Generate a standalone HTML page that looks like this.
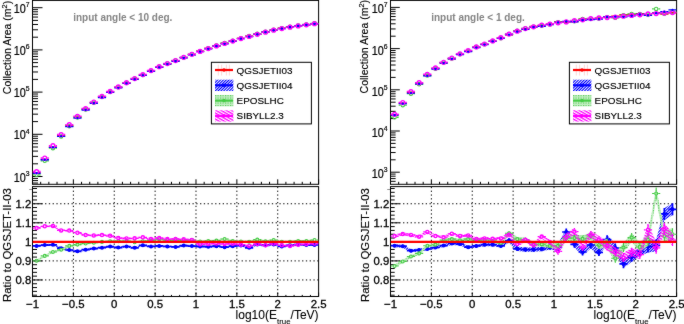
<!DOCTYPE html>
<html><head><meta charset="utf-8"><style>
html,body{margin:0;padding:0;background:#fff;}
body{width:684px;height:324px;overflow:hidden;font-family:"Liberation Sans",sans-serif;}
svg{display:block;}
</style></head><body>
<svg width="684" height="324" viewBox="0 0 684 324">
<defs>
<pattern id="hb" patternUnits="userSpaceOnUse" width="2" height="2" patternTransform="rotate(45)"><rect x="0" y="0" width="1.1" height="2" fill="#0000ff"/></pattern>
<pattern id="hm" patternUnits="userSpaceOnUse" width="2.6" height="2.6" patternTransform="rotate(30)"><rect x="0" y="0" width="2.6" height="1.3" fill="#ff00ff"/></pattern>
<pattern id="hg" patternUnits="userSpaceOnUse" width="2.5" height="2.5"><rect x="0" y="0" width="2.5" height="2.5" fill="#c6efc6"/><rect x="0" y="0" width="1.2" height="1.2" fill="#55cc55"/></pattern>
<clipPath id="cu0"><rect x="32.5" y="0.4" width="286.1" height="183.9"/></clipPath>
<clipPath id="cl0"><rect x="32.5" y="186.6" width="286.1" height="109.9"/></clipPath>
<filter id="soft" x="0" y="0" width="684" height="324" filterUnits="userSpaceOnUse" color-interpolation-filters="sRGB"><feConvolveMatrix order="3" kernelMatrix="1 2 1 2 40 2 1 2 1" divisor="52" edgeMode="duplicate" preserveAlpha="true"/></filter>
</defs>
<g filter="url(#soft)">
<rect x="0" y="0" width="684" height="324" fill="#ffffff"/>
<g transform="translate(0.0,0)">
<rect x="32.50" y="0.40" width="286.10" height="183.90" fill="none" stroke="#000" stroke-width="1"/>
<path d="M32.50 183.04h5.50M32.50 180.59h5.50M32.50 178.43h5.50M32.50 176.50h10.00M32.50 163.80h5.50M32.50 156.37h5.50M32.50 151.09h5.50M32.50 147.00h5.50M32.50 143.66h5.50M32.50 140.84h5.50M32.50 138.39h5.50M32.50 136.23h5.50M32.50 134.30h10.00M32.50 121.60h5.50M32.50 114.17h5.50M32.50 108.89h5.50M32.50 104.80h5.50M32.50 101.46h5.50M32.50 98.64h5.50M32.50 96.19h5.50M32.50 94.03h5.50M32.50 92.10h10.00M32.50 79.40h5.50M32.50 71.97h5.50M32.50 66.69h5.50M32.50 62.60h5.50M32.50 59.26h5.50M32.50 56.44h5.50M32.50 53.99h5.50M32.50 51.83h5.50M32.50 49.90h10.00M32.50 37.20h5.50M32.50 29.77h5.50M32.50 24.49h5.50M32.50 20.40h5.50M32.50 17.06h5.50M32.50 14.24h5.50M32.50 11.79h5.50M32.50 9.63h5.50M32.50 7.70h10.00M32.50 184.30v-5.00M40.67 184.30v-2.50M48.85 184.30v-2.50M57.02 184.30v-2.50M65.20 184.30v-2.50M73.37 184.30v-5.00M81.55 184.30v-2.50M89.72 184.30v-2.50M97.89 184.30v-2.50M106.07 184.30v-2.50M114.24 184.30v-5.00M122.42 184.30v-2.50M130.59 184.30v-2.50M138.77 184.30v-2.50M146.94 184.30v-2.50M155.11 184.30v-5.00M163.29 184.30v-2.50M171.46 184.30v-2.50M179.64 184.30v-2.50M187.81 184.30v-2.50M195.99 184.30v-5.00M204.16 184.30v-2.50M212.33 184.30v-2.50M220.51 184.30v-2.50M228.68 184.30v-2.50M236.86 184.30v-5.00M245.03 184.30v-2.50M253.21 184.30v-2.50M261.38 184.30v-2.50M269.55 184.30v-2.50M277.73 184.30v-5.00M285.90 184.30v-2.50M294.08 184.30v-2.50M302.25 184.30v-2.50M310.43 184.30v-2.50M318.60 184.30v-5.00" stroke="#000" stroke-width="1" fill="none"/>
<g transform="translate(29.6,181.60) scale(0.9,1)"><text x="0" y="0" font-family="Liberation Sans, sans-serif" font-size="12" text-anchor="end" fill="#000" stroke="#000" stroke-width="0.2">10<tspan dy="-5.9" font-size="7.6">3</tspan></text></g>
<g transform="translate(29.6,139.40) scale(0.9,1)"><text x="0" y="0" font-family="Liberation Sans, sans-serif" font-size="12" text-anchor="end" fill="#000" stroke="#000" stroke-width="0.2">10<tspan dy="-5.9" font-size="7.6">4</tspan></text></g>
<g transform="translate(29.6,97.20) scale(0.9,1)"><text x="0" y="0" font-family="Liberation Sans, sans-serif" font-size="12" text-anchor="end" fill="#000" stroke="#000" stroke-width="0.2">10<tspan dy="-5.9" font-size="7.6">5</tspan></text></g>
<g transform="translate(29.6,55.00) scale(0.9,1)"><text x="0" y="0" font-family="Liberation Sans, sans-serif" font-size="12" text-anchor="end" fill="#000" stroke="#000" stroke-width="0.2">10<tspan dy="-5.9" font-size="7.6">6</tspan></text></g>
<g transform="translate(29.6,12.80) scale(0.9,1)"><text x="0" y="0" font-family="Liberation Sans, sans-serif" font-size="12" text-anchor="end" fill="#000" stroke="#000" stroke-width="0.2">10<tspan dy="-5.9" font-size="7.6">7</tspan></text></g>
<text transform="translate(10.50,94.20) rotate(-90)" font-family="Liberation Sans, sans-serif" font-size="10.5" fill="#000" stroke="#000" stroke-width="0.15">Collection Area (m<tspan dy="-4" font-size="7.5">2</tspan><tspan dy="4">)</tspan></text>
<text x="73.2" y="20.6" font-family="Liberation Sans, sans-serif" font-size="10" font-weight="bold" fill="#858585">input angle &lt; 10 deg.</text>
<g clip-path="url(#cu0)">
<path d="M32.50 172.88H40.67M36.59 172.08V173.68M40.67 159.44H48.85M44.76 158.64V160.24M48.85 147.16H57.02M52.94 146.36V147.96M57.02 135.67H65.20M61.11 134.87V136.47M65.20 125.75H73.37M69.28 124.95V126.55M73.37 117.16H81.55M77.46 116.36V117.96M81.55 109.24H89.72M85.63 108.44V110.04M89.72 102.61H97.89M93.81 101.81V103.41M97.89 96.94H106.07M101.98 96.14V97.74M106.07 91.97H114.24M110.16 91.17V92.77M114.24 87.28H122.42M118.33 86.48V88.08M122.42 83.02H130.59M126.50 82.22V83.82M130.59 78.84H138.77M134.68 78.04V79.64M138.77 75.03H146.94M142.85 74.23V75.83M146.94 70.86H155.11M151.03 70.06V71.66M155.11 67.08H163.29M159.20 66.28V67.88M163.29 63.76H171.46M167.38 62.96V64.56M171.46 60.76H179.64M175.55 59.96V61.56M179.64 57.54H187.81M183.72 56.74V58.34M187.81 54.48H195.99M191.90 53.68V55.28M195.99 51.17H204.16M200.07 50.37V51.97M204.16 48.40H212.33M208.25 47.60V49.20M212.33 45.74H220.51M216.42 44.94V46.54M220.51 43.28H228.68M224.60 42.48V44.08M228.68 40.91H236.86M232.77 40.11V41.71M236.86 38.32H245.03M240.94 37.52V39.12M245.03 36.11H253.21M249.12 35.31V36.91M253.21 34.08H261.38M257.29 33.28V34.88M261.38 31.87H269.55M265.47 31.07V32.67M269.55 30.04H277.73M273.64 29.24V30.84M277.73 28.17H285.90M281.82 27.37V28.97M285.90 26.81H294.08M289.99 26.01V27.61M294.08 25.62H302.25M298.16 24.82V26.42M302.25 24.58H310.43M306.34 23.78V25.38M310.43 23.54H318.60M314.51 22.74V24.34" stroke="#ff0000" stroke-width="1.30" fill="none"/>
<path d="M32.50 174.80H34.34M38.84 174.80H40.67M40.67 160.84H42.51M47.01 160.84H48.85M48.85 148.16H50.69M55.19 148.16H57.02M57.02 136.44H58.86M63.36 136.44H65.20M65.20 126.15H67.03M71.53 126.15H73.37M73.37 117.43H75.21M79.71 117.43H81.55M81.55 109.40H83.38M87.88 109.40H89.72M89.72 102.70H91.56M96.06 102.70H97.89M97.89 96.94H99.73M104.23 96.94H106.07M106.07 91.91H107.91M112.41 91.91H114.24M114.24 87.21H116.08M120.58 87.21H122.42M122.42 82.95H124.25M128.75 82.95H130.59M130.59 78.87H132.43M136.93 78.87H138.77M138.77 74.97H140.60M145.10 74.97H146.94M146.94 70.75H148.78M153.28 70.75H155.11M155.11 66.82H156.95M161.45 66.82H163.29M163.29 63.60H165.13M169.63 63.60H171.46M171.46 60.60H173.30M177.80 60.60H179.64M179.64 57.39H181.47M185.97 57.39H187.81M187.81 54.30H189.65M194.15 54.30H195.99M195.99 51.14H197.82M202.32 51.14H204.16M204.16 48.32H206.00M210.50 48.32H212.33M212.33 45.62H214.17M218.67 45.62H220.51M220.51 43.01H222.35M226.85 43.01H228.68M228.68 40.83H230.52M235.02 40.83H236.86M236.86 38.29H238.69M243.19 38.29H245.03M245.03 36.09H246.87M251.37 36.09H253.21M253.21 33.87H255.04M259.54 33.87H261.38M261.38 31.80H263.22M267.72 31.80H269.55M269.55 29.86H271.39M275.89 29.86H277.73M277.73 28.15H279.57M284.07 28.15H285.90M285.90 26.79H287.74M292.24 26.79H294.08M294.08 25.54H295.91M300.41 25.54H302.25M302.25 24.50H304.09M308.59 24.50H310.43M310.43 23.36H312.26M316.76 23.36H318.60" stroke="#44cc44" stroke-width="1.30" fill="none"/>
<circle cx="36.59" cy="174.80" r="1.70" fill="none" stroke="#44cc44" stroke-width="1.10"/>
<circle cx="44.76" cy="160.84" r="1.70" fill="none" stroke="#44cc44" stroke-width="1.10"/>
<circle cx="52.94" cy="148.16" r="1.70" fill="none" stroke="#44cc44" stroke-width="1.10"/>
<circle cx="61.11" cy="136.44" r="1.70" fill="none" stroke="#44cc44" stroke-width="1.10"/>
<circle cx="69.28" cy="126.15" r="1.70" fill="none" stroke="#44cc44" stroke-width="1.10"/>
<circle cx="77.46" cy="117.43" r="1.70" fill="none" stroke="#44cc44" stroke-width="1.10"/>
<circle cx="85.63" cy="109.40" r="1.70" fill="none" stroke="#44cc44" stroke-width="1.10"/>
<circle cx="93.81" cy="102.70" r="1.70" fill="none" stroke="#44cc44" stroke-width="1.10"/>
<circle cx="101.98" cy="96.94" r="1.70" fill="none" stroke="#44cc44" stroke-width="1.10"/>
<circle cx="110.16" cy="91.91" r="1.70" fill="none" stroke="#44cc44" stroke-width="1.10"/>
<circle cx="118.33" cy="87.21" r="1.70" fill="none" stroke="#44cc44" stroke-width="1.10"/>
<circle cx="126.50" cy="82.95" r="1.70" fill="none" stroke="#44cc44" stroke-width="1.10"/>
<circle cx="134.68" cy="78.87" r="1.70" fill="none" stroke="#44cc44" stroke-width="1.10"/>
<circle cx="142.85" cy="74.97" r="1.70" fill="none" stroke="#44cc44" stroke-width="1.10"/>
<circle cx="151.03" cy="70.75" r="1.70" fill="none" stroke="#44cc44" stroke-width="1.10"/>
<circle cx="159.20" cy="66.82" r="1.70" fill="none" stroke="#44cc44" stroke-width="1.10"/>
<circle cx="167.38" cy="63.60" r="1.70" fill="none" stroke="#44cc44" stroke-width="1.10"/>
<circle cx="175.55" cy="60.60" r="1.70" fill="none" stroke="#44cc44" stroke-width="1.10"/>
<circle cx="183.72" cy="57.39" r="1.70" fill="none" stroke="#44cc44" stroke-width="1.10"/>
<circle cx="191.90" cy="54.30" r="1.70" fill="none" stroke="#44cc44" stroke-width="1.10"/>
<circle cx="200.07" cy="51.14" r="1.70" fill="none" stroke="#44cc44" stroke-width="1.10"/>
<circle cx="208.25" cy="48.32" r="1.70" fill="none" stroke="#44cc44" stroke-width="1.10"/>
<circle cx="216.42" cy="45.62" r="1.70" fill="none" stroke="#44cc44" stroke-width="1.10"/>
<circle cx="224.60" cy="43.01" r="1.70" fill="none" stroke="#44cc44" stroke-width="1.10"/>
<circle cx="232.77" cy="40.83" r="1.70" fill="none" stroke="#44cc44" stroke-width="1.10"/>
<circle cx="240.94" cy="38.29" r="1.70" fill="none" stroke="#44cc44" stroke-width="1.10"/>
<circle cx="249.12" cy="36.09" r="1.70" fill="none" stroke="#44cc44" stroke-width="1.10"/>
<circle cx="257.29" cy="33.87" r="1.70" fill="none" stroke="#44cc44" stroke-width="1.10"/>
<circle cx="265.47" cy="31.80" r="1.70" fill="none" stroke="#44cc44" stroke-width="1.10"/>
<circle cx="273.64" cy="29.86" r="1.70" fill="none" stroke="#44cc44" stroke-width="1.10"/>
<circle cx="281.82" cy="28.15" r="1.70" fill="none" stroke="#44cc44" stroke-width="1.10"/>
<circle cx="289.99" cy="26.79" r="1.70" fill="none" stroke="#44cc44" stroke-width="1.10"/>
<circle cx="298.16" cy="25.54" r="1.70" fill="none" stroke="#44cc44" stroke-width="1.10"/>
<circle cx="306.34" cy="24.50" r="1.70" fill="none" stroke="#44cc44" stroke-width="1.10"/>
<circle cx="314.51" cy="23.36" r="1.70" fill="none" stroke="#44cc44" stroke-width="1.10"/>
<path d="M32.50 173.27H40.67M36.59 172.47V174.07M40.67 159.75H48.85M44.76 158.95V160.55M48.85 147.44H57.02M52.94 146.64V148.24M57.02 136.29H65.20M61.11 135.49V137.09M65.20 126.55H73.37M69.28 125.75V127.35M73.37 118.09H81.55M77.46 117.29V118.89M81.55 110.01H89.72M85.63 109.21V110.81M89.72 103.27H97.89M93.81 102.47V104.07M97.89 97.51H106.07M101.98 96.71V98.31M106.07 92.44H114.24M110.16 91.64V93.24M114.24 87.84H122.42M118.33 87.04V88.64M122.42 83.47H130.59M126.50 82.67V84.27M130.59 79.42H138.77M134.68 78.62V80.22M138.77 75.37H146.94M142.85 74.57V76.17M146.94 71.32H155.11M151.03 70.52V72.12M155.11 67.47H163.29M159.20 66.67V68.27M163.29 64.22H171.46M167.38 63.42V65.02M171.46 61.26H179.64M175.55 60.46V62.06M179.64 57.91H187.81M183.72 57.11V58.71M187.81 54.89H195.99M191.90 54.09V55.69M195.99 51.62H204.16M200.07 50.82V52.42M204.16 48.87H212.33M208.25 48.07V49.67M212.33 46.16H220.51M216.42 45.36V46.96M220.51 43.80H228.68M224.60 43.00V44.60M228.68 41.33H236.86M232.77 40.53V42.13M236.86 38.68H245.03M240.94 37.88V39.48M245.03 36.69H253.21M249.12 35.89V37.49M253.21 34.35H261.38M257.29 33.55V35.15M261.38 32.20H269.55M265.47 31.40V33.00M269.55 30.30H277.73M273.64 29.50V31.10M277.73 28.62H285.90M281.82 27.82V29.42M285.90 27.14H294.08M289.99 26.34V27.94M294.08 25.88H302.25M298.16 25.08V26.68M302.25 24.89H310.43M306.34 24.09V25.69M310.43 23.85H318.60M314.51 23.05V24.65" stroke="#0000ff" stroke-width="1.30" fill="none"/>
<path d="M32.50 171.60H33.96M39.21 171.60H40.67M40.67 158.00H42.14M47.39 158.00H48.85M48.85 145.70H50.31M55.56 145.70H57.02M57.02 134.60H58.49M63.74 134.60H65.20M65.20 124.70H66.66M71.91 124.70H73.37M73.37 116.30H74.83M80.08 116.30H81.55M81.55 108.60H83.01M88.26 108.60H89.72M89.72 102.00H91.18M96.43 102.00H97.89M97.89 96.30H99.36M104.61 96.30H106.07M106.07 91.40H107.53M112.78 91.40H114.24M114.24 86.90H115.71M120.96 86.90H122.42M122.42 82.70H123.88M129.13 82.70H130.59M130.59 78.50H132.05M137.30 78.50H138.77M138.77 74.60H140.23M145.48 74.60H146.94M146.94 70.60H148.40M153.65 70.60H155.11M155.11 66.70H156.58M161.83 66.70H163.29M163.29 63.50H164.75M170.00 63.50H171.46M171.46 60.50H172.93M178.18 60.50H179.64M179.64 57.30H181.10M186.35 57.30H187.81M187.81 54.30H189.27M194.52 54.30H195.99M195.99 51.40H197.45M202.70 51.40H204.16M204.16 48.60H205.62M210.87 48.60H212.33M212.33 45.90H213.80M219.05 45.90H220.51M220.51 43.50H221.97M227.22 43.50H228.68M228.68 41.10H230.15M235.40 41.10H236.86M236.86 38.60H238.32M243.57 38.60H245.03M245.03 36.50H246.49M251.74 36.50H253.21M253.21 34.30H254.67M259.92 34.30H261.38M261.38 32.20H262.84M268.09 32.20H269.55M269.55 30.20H271.02M276.27 30.20H277.73M277.73 28.50H279.19M284.44 28.50H285.90M285.90 27.20H287.37M292.62 27.20H294.08M294.08 25.90H295.54M300.79 25.90H302.25M302.25 24.80H303.71M308.96 24.80H310.43M310.43 23.70H311.89M317.14 23.70H318.60" stroke="#ff00ff" stroke-width="1.50" fill="none"/>
<circle cx="36.59" cy="171.60" r="1.90" fill="none" stroke="#ff00ff" stroke-width="1.45"/>
<circle cx="44.76" cy="158.00" r="1.90" fill="none" stroke="#ff00ff" stroke-width="1.45"/>
<circle cx="52.94" cy="145.70" r="1.90" fill="none" stroke="#ff00ff" stroke-width="1.45"/>
<circle cx="61.11" cy="134.60" r="1.90" fill="none" stroke="#ff00ff" stroke-width="1.45"/>
<circle cx="69.28" cy="124.70" r="1.90" fill="none" stroke="#ff00ff" stroke-width="1.45"/>
<circle cx="77.46" cy="116.30" r="1.90" fill="none" stroke="#ff00ff" stroke-width="1.45"/>
<circle cx="85.63" cy="108.60" r="1.90" fill="none" stroke="#ff00ff" stroke-width="1.45"/>
<circle cx="93.81" cy="102.00" r="1.90" fill="none" stroke="#ff00ff" stroke-width="1.45"/>
<circle cx="101.98" cy="96.30" r="1.90" fill="none" stroke="#ff00ff" stroke-width="1.45"/>
<circle cx="110.16" cy="91.40" r="1.90" fill="none" stroke="#ff00ff" stroke-width="1.45"/>
<circle cx="118.33" cy="86.90" r="1.90" fill="none" stroke="#ff00ff" stroke-width="1.45"/>
<circle cx="126.50" cy="82.70" r="1.90" fill="none" stroke="#ff00ff" stroke-width="1.45"/>
<circle cx="134.68" cy="78.50" r="1.90" fill="none" stroke="#ff00ff" stroke-width="1.45"/>
<circle cx="142.85" cy="74.60" r="1.90" fill="none" stroke="#ff00ff" stroke-width="1.45"/>
<circle cx="151.03" cy="70.60" r="1.90" fill="none" stroke="#ff00ff" stroke-width="1.45"/>
<circle cx="159.20" cy="66.70" r="1.90" fill="none" stroke="#ff00ff" stroke-width="1.45"/>
<circle cx="167.38" cy="63.50" r="1.90" fill="none" stroke="#ff00ff" stroke-width="1.45"/>
<circle cx="175.55" cy="60.50" r="1.90" fill="none" stroke="#ff00ff" stroke-width="1.45"/>
<circle cx="183.72" cy="57.30" r="1.90" fill="none" stroke="#ff00ff" stroke-width="1.45"/>
<circle cx="191.90" cy="54.30" r="1.90" fill="none" stroke="#ff00ff" stroke-width="1.45"/>
<circle cx="200.07" cy="51.40" r="1.90" fill="none" stroke="#ff00ff" stroke-width="1.45"/>
<circle cx="208.25" cy="48.60" r="1.90" fill="none" stroke="#ff00ff" stroke-width="1.45"/>
<circle cx="216.42" cy="45.90" r="1.90" fill="none" stroke="#ff00ff" stroke-width="1.45"/>
<circle cx="224.60" cy="43.50" r="1.90" fill="none" stroke="#ff00ff" stroke-width="1.45"/>
<circle cx="232.77" cy="41.10" r="1.90" fill="none" stroke="#ff00ff" stroke-width="1.45"/>
<circle cx="240.94" cy="38.60" r="1.90" fill="none" stroke="#ff00ff" stroke-width="1.45"/>
<circle cx="249.12" cy="36.50" r="1.90" fill="none" stroke="#ff00ff" stroke-width="1.45"/>
<circle cx="257.29" cy="34.30" r="1.90" fill="none" stroke="#ff00ff" stroke-width="1.45"/>
<circle cx="265.47" cy="32.20" r="1.90" fill="none" stroke="#ff00ff" stroke-width="1.45"/>
<circle cx="273.64" cy="30.20" r="1.90" fill="none" stroke="#ff00ff" stroke-width="1.45"/>
<circle cx="281.82" cy="28.50" r="1.90" fill="none" stroke="#ff00ff" stroke-width="1.45"/>
<circle cx="289.99" cy="27.20" r="1.90" fill="none" stroke="#ff00ff" stroke-width="1.45"/>
<circle cx="298.16" cy="25.90" r="1.90" fill="none" stroke="#ff00ff" stroke-width="1.45"/>
<circle cx="306.34" cy="24.80" r="1.90" fill="none" stroke="#ff00ff" stroke-width="1.45"/>
<circle cx="314.51" cy="23.70" r="1.90" fill="none" stroke="#ff00ff" stroke-width="1.45"/>
<circle cx="36.59" cy="173.27" r="1.15" fill="#0000ff"/>
<circle cx="44.76" cy="159.75" r="1.15" fill="#0000ff"/>
<circle cx="52.94" cy="147.44" r="1.15" fill="#0000ff"/>
<circle cx="61.11" cy="136.29" r="1.15" fill="#0000ff"/>
<circle cx="69.28" cy="126.55" r="1.15" fill="#0000ff"/>
<circle cx="77.46" cy="118.09" r="1.15" fill="#0000ff"/>
<circle cx="85.63" cy="110.01" r="1.15" fill="#0000ff"/>
<circle cx="93.81" cy="103.27" r="1.15" fill="#0000ff"/>
<circle cx="101.98" cy="97.51" r="1.15" fill="#0000ff"/>
<circle cx="110.16" cy="92.44" r="1.15" fill="#0000ff"/>
<circle cx="118.33" cy="87.84" r="1.15" fill="#0000ff"/>
<circle cx="126.50" cy="83.47" r="1.15" fill="#0000ff"/>
<circle cx="134.68" cy="79.42" r="1.15" fill="#0000ff"/>
<circle cx="142.85" cy="75.37" r="1.15" fill="#0000ff"/>
<circle cx="151.03" cy="71.32" r="1.15" fill="#0000ff"/>
<circle cx="159.20" cy="67.47" r="1.15" fill="#0000ff"/>
<circle cx="167.38" cy="64.22" r="1.15" fill="#0000ff"/>
<circle cx="175.55" cy="61.26" r="1.15" fill="#0000ff"/>
<circle cx="183.72" cy="57.91" r="1.15" fill="#0000ff"/>
<circle cx="191.90" cy="54.89" r="1.15" fill="#0000ff"/>
<circle cx="200.07" cy="51.62" r="1.15" fill="#0000ff"/>
<circle cx="208.25" cy="48.87" r="1.15" fill="#0000ff"/>
<circle cx="216.42" cy="46.16" r="1.15" fill="#0000ff"/>
<circle cx="224.60" cy="43.80" r="1.15" fill="#0000ff"/>
<circle cx="232.77" cy="41.33" r="1.15" fill="#0000ff"/>
<circle cx="240.94" cy="38.68" r="1.15" fill="#0000ff"/>
<circle cx="249.12" cy="36.69" r="1.15" fill="#0000ff"/>
<circle cx="257.29" cy="34.35" r="1.15" fill="#0000ff"/>
<circle cx="265.47" cy="32.20" r="1.15" fill="#0000ff"/>
<circle cx="273.64" cy="30.30" r="1.15" fill="#0000ff"/>
<circle cx="281.82" cy="28.62" r="1.15" fill="#0000ff"/>
<circle cx="289.99" cy="27.14" r="1.15" fill="#0000ff"/>
<circle cx="298.16" cy="25.88" r="1.15" fill="#0000ff"/>
<circle cx="306.34" cy="24.89" r="1.15" fill="#0000ff"/>
<circle cx="314.51" cy="23.85" r="1.15" fill="#0000ff"/>
</g>
<rect x="211.40" y="62.30" width="100.00" height="61.60" fill="#fff" stroke="#000" stroke-width="1"/>
<path d="M218.3 64.70V75.50" stroke="#ffd0d0" stroke-width="0.9"/>
<path d="M221.6 64.70V75.50" stroke="#ffd0d0" stroke-width="0.9"/>
<path d="M226.4 64.70V75.50" stroke="#ffd0d0" stroke-width="0.9"/>
<path d="M229.4 64.70V75.50" stroke="#ffd0d0" stroke-width="0.9"/>
<path d="M215 70.00H233" stroke="#ff0000" stroke-width="2.2"/>
<circle cx="224" cy="70.00" r="1.8" fill="#ff0000"/>
<text x="236.6" y="73.50" font-family="Liberation Sans, sans-serif" font-size="9.9" fill="#000" stroke="#000" stroke-width="0.15">QGSJETII03</text>
<rect x="215" y="79.70" width="18.4" height="11.3" fill="url(#hb)"/>
<path d="M215 85.30H233" stroke="#0000ff" stroke-width="2.2"/>
<circle cx="224" cy="85.30" r="1.8" fill="#0000ff"/>
<text x="236.6" y="88.80" font-family="Liberation Sans, sans-serif" font-size="9.9" fill="#000" stroke="#000" stroke-width="0.15">QGSJETII04</text>
<rect x="215" y="95.00" width="18.4" height="11.3" fill="url(#hg)"/>
<path d="M215 100.60H233" stroke="#44cc44" stroke-width="2.2"/>
<circle cx="224" cy="100.60" r="1.8" fill="#44cc44"/>
<text x="236.6" y="104.10" font-family="Liberation Sans, sans-serif" font-size="9.9" fill="#000" stroke="#000" stroke-width="0.15">EPOSLHC</text>
<rect x="215" y="110.30" width="18.4" height="11.3" fill="url(#hm)"/>
<path d="M215 115.90H233" stroke="#ff00ff" stroke-width="2.2"/>
<circle cx="224" cy="115.90" r="1.8" fill="#ff00ff"/>
<text x="236.6" y="119.40" font-family="Liberation Sans, sans-serif" font-size="9.9" fill="#000" stroke="#000" stroke-width="0.15">SIBYLL2.3</text>
<path d="M73.37 186.60V296.50M114.24 186.60V296.50M155.11 186.60V296.50M195.99 186.60V296.50M236.86 186.60V296.50M277.73 186.60V296.50" stroke="#000" stroke-width="1" stroke-dasharray="1.3 2.48" stroke-dashoffset="3.53" fill="none"/>
<path d="M32.50 279.95H318.60M32.50 260.90H318.60M32.50 222.80H318.60M32.50 203.75H318.60" stroke="#000" stroke-width="1" stroke-dasharray="1.3 2.48" stroke-dashoffset="2.57" fill="none"/>
<rect x="32.50" y="186.60" width="286.10" height="109.90" fill="none" stroke="#000" stroke-width="1"/>
<path d="M32.50 296.50v-4.00M40.67 296.50v-1.60M48.85 296.50v-1.60M57.02 296.50v-1.60M65.20 296.50v-1.60M73.37 296.50v-4.00M81.55 296.50v-1.60M89.72 296.50v-1.60M97.89 296.50v-1.60M106.07 296.50v-1.60M114.24 296.50v-4.00M122.42 296.50v-1.60M130.59 296.50v-1.60M138.77 296.50v-1.60M146.94 296.50v-1.60M155.11 296.50v-4.00M163.29 296.50v-1.60M171.46 296.50v-1.60M179.64 296.50v-1.60M187.81 296.50v-1.60M195.99 296.50v-4.00M204.16 296.50v-1.60M212.33 296.50v-1.60M220.51 296.50v-1.60M228.68 296.50v-1.60M236.86 296.50v-4.00M245.03 296.50v-1.60M253.21 296.50v-1.60M261.38 296.50v-1.60M269.55 296.50v-1.60M277.73 296.50v-4.00M285.90 296.50v-1.60M294.08 296.50v-1.60M302.25 296.50v-1.60M310.43 296.50v-1.60M318.60 296.50v-4.00M32.50 295.19h4.50M32.50 291.38h4.50M32.50 287.57h4.50M32.50 283.76h4.50M32.50 279.95h10.00M32.50 276.14h4.50M32.50 272.33h4.50M32.50 268.52h4.50M32.50 264.71h4.50M32.50 260.90h10.00M32.50 257.09h4.50M32.50 253.28h4.50M32.50 249.47h4.50M32.50 245.66h4.50M32.50 241.85h10.00M32.50 238.04h4.50M32.50 234.23h4.50M32.50 230.42h4.50M32.50 226.61h4.50M32.50 222.80h10.00M32.50 218.99h4.50M32.50 215.18h4.50M32.50 211.37h4.50M32.50 207.56h4.50M32.50 203.75h10.00M32.50 199.94h4.50M32.50 196.13h4.50M32.50 192.32h4.50M32.50 188.51h4.50" stroke="#000" stroke-width="1" fill="none"/>
<path d="M29.2 189.5H32" stroke="#777" stroke-width="0.8"/>
<g clip-path="url(#cl0)">
<polygon points="36.59,244.90 44.76,244.10 52.94,243.80 61.11,247.20 69.28,249.00 77.46,250.30 85.63,248.70 93.81,247.60 101.98,246.70 110.16,245.60 118.33,246.60 126.50,245.50 134.68,246.80 142.85,244.30 151.03,245.50 159.20,244.90 167.38,245.50 175.55,245.90 183.72,244.60 191.90,245.10 200.07,245.40 208.25,245.70 216.42,245.20 224.60,246.20 232.77,245.20 240.94,244.50 249.12,246.80 257.29,243.60 265.47,244.30 273.64,243.50 281.82,245.50 289.99,244.30 298.16,243.50 306.34,244.00 314.51,244.00 314.51,246.00 306.34,246.00 298.16,245.50 289.99,246.30 281.82,247.50 273.64,245.50 265.47,246.30 257.29,245.60 249.12,248.80 240.94,246.50 232.77,247.20 224.60,248.20 216.42,247.20 208.25,247.70 200.07,247.40 191.90,247.10 183.72,246.60 175.55,247.90 167.38,247.50 159.20,246.90 151.03,247.50 142.85,246.30 134.68,248.80 126.50,247.50 118.33,248.60 110.16,247.60 101.98,248.70 93.81,249.60 85.63,250.70 77.46,252.30 69.28,251.00 61.11,249.20 52.94,245.80 44.76,246.10 36.59,246.90" fill="url(#hb)" stroke="none"/>
<path d="M32.50 245.90H40.67M36.59 244.90V246.90M40.67 245.10H48.85M44.76 244.10V246.10M48.85 244.80H57.02M52.94 243.80V245.80M57.02 248.20H65.20M61.11 247.20V249.20M65.20 250.00H73.37M69.28 249.00V251.00M73.37 251.30H81.55M77.46 250.30V252.30M81.55 249.70H89.72M85.63 248.70V250.70M89.72 248.60H97.89M93.81 247.60V249.60M97.89 247.70H106.07M101.98 246.70V248.70M106.07 246.60H114.24M110.16 245.60V247.60M114.24 247.60H122.42M118.33 246.60V248.60M122.42 246.50H130.59M126.50 245.50V247.50M130.59 247.80H138.77M134.68 246.80V248.80M138.77 245.30H146.94M142.85 244.30V246.30M146.94 246.50H155.11M151.03 245.50V247.50M155.11 245.90H163.29M159.20 244.90V246.90M163.29 246.50H171.46M167.38 245.50V247.50M171.46 246.90H179.64M175.55 245.90V247.90M179.64 245.60H187.81M183.72 244.60V246.60M187.81 246.10H195.99M191.90 245.10V247.10M195.99 246.40H204.16M200.07 245.40V247.40M204.16 246.70H212.33M208.25 245.70V247.70M212.33 246.20H220.51M216.42 245.20V247.20M220.51 247.20H228.68M224.60 246.20V248.20M228.68 246.20H236.86M232.77 245.20V247.20M236.86 245.50H245.03M240.94 244.50V246.50M245.03 247.80H253.21M249.12 246.80V248.80M253.21 244.60H261.38M257.29 243.60V245.60M261.38 245.30H269.55M265.47 244.30V246.30M269.55 244.50H277.73M273.64 243.50V245.50M277.73 246.50H285.90M281.82 245.50V247.50M285.90 245.30H294.08M289.99 244.30V246.30M294.08 244.50H302.25M298.16 243.50V245.50M302.25 245.00H310.43M306.34 244.00V246.00M310.43 245.00H318.60M314.51 244.00V246.00" stroke="#0000ff" stroke-width="1.70" fill="none"/>
<circle cx="36.59" cy="245.90" r="2.00" fill="#0000ff"/>
<circle cx="44.76" cy="245.10" r="2.00" fill="#0000ff"/>
<circle cx="52.94" cy="244.80" r="2.00" fill="#0000ff"/>
<circle cx="61.11" cy="248.20" r="2.00" fill="#0000ff"/>
<circle cx="69.28" cy="250.00" r="2.00" fill="#0000ff"/>
<circle cx="77.46" cy="251.30" r="2.00" fill="#0000ff"/>
<circle cx="85.63" cy="249.70" r="2.00" fill="#0000ff"/>
<circle cx="93.81" cy="248.60" r="2.00" fill="#0000ff"/>
<circle cx="101.98" cy="247.70" r="2.00" fill="#0000ff"/>
<circle cx="110.16" cy="246.60" r="2.00" fill="#0000ff"/>
<circle cx="118.33" cy="247.60" r="2.00" fill="#0000ff"/>
<circle cx="126.50" cy="246.50" r="2.00" fill="#0000ff"/>
<circle cx="134.68" cy="247.80" r="2.00" fill="#0000ff"/>
<circle cx="142.85" cy="245.30" r="2.00" fill="#0000ff"/>
<circle cx="151.03" cy="246.50" r="2.00" fill="#0000ff"/>
<circle cx="159.20" cy="245.90" r="2.00" fill="#0000ff"/>
<circle cx="167.38" cy="246.50" r="2.00" fill="#0000ff"/>
<circle cx="175.55" cy="246.90" r="2.00" fill="#0000ff"/>
<circle cx="183.72" cy="245.60" r="2.00" fill="#0000ff"/>
<circle cx="191.90" cy="246.10" r="2.00" fill="#0000ff"/>
<circle cx="200.07" cy="246.40" r="2.00" fill="#0000ff"/>
<circle cx="208.25" cy="246.70" r="2.00" fill="#0000ff"/>
<circle cx="216.42" cy="246.20" r="2.00" fill="#0000ff"/>
<circle cx="224.60" cy="247.20" r="2.00" fill="#0000ff"/>
<circle cx="232.77" cy="246.20" r="2.00" fill="#0000ff"/>
<circle cx="240.94" cy="245.50" r="2.00" fill="#0000ff"/>
<circle cx="249.12" cy="247.80" r="2.00" fill="#0000ff"/>
<circle cx="257.29" cy="244.60" r="2.00" fill="#0000ff"/>
<circle cx="265.47" cy="245.30" r="2.00" fill="#0000ff"/>
<circle cx="273.64" cy="244.50" r="2.00" fill="#0000ff"/>
<circle cx="281.82" cy="246.50" r="2.00" fill="#0000ff"/>
<circle cx="289.99" cy="245.30" r="2.00" fill="#0000ff"/>
<circle cx="298.16" cy="244.50" r="2.00" fill="#0000ff"/>
<circle cx="306.34" cy="245.00" r="2.00" fill="#0000ff"/>
<circle cx="314.51" cy="245.00" r="2.00" fill="#0000ff"/>
<polygon points="36.59,259.80 44.76,254.90 52.94,251.00 61.11,248.70 69.28,244.90 77.46,243.60 85.63,242.50 93.81,241.80 101.98,240.90 110.16,240.20 118.33,240.20 126.50,240.10 134.68,241.20 142.85,240.20 151.03,239.70 159.20,238.20 167.38,239.20 175.55,239.20 183.72,239.20 191.90,239.00 200.07,240.50 208.25,240.00 216.42,239.60 224.60,238.00 232.77,240.00 240.94,240.50 249.12,240.70 257.29,238.60 265.47,240.20 273.64,239.00 281.82,240.70 289.99,240.70 298.16,240.00 306.34,240.00 314.51,239.00 314.51,241.00 306.34,242.00 298.16,242.00 289.99,242.70 281.82,242.70 273.64,241.00 265.47,242.20 257.29,240.60 249.12,242.70 240.94,242.50 232.77,242.00 224.60,240.00 216.42,241.60 208.25,242.00 200.07,242.50 191.90,241.00 183.72,241.20 175.55,241.20 167.38,241.20 159.20,240.20 151.03,241.70 142.85,242.20 134.68,243.20 126.50,242.10 118.33,242.20 110.16,242.20 101.98,242.90 93.81,243.80 85.63,244.50 77.46,245.60 69.28,246.90 61.11,250.70 52.94,253.00 44.76,256.90 36.59,261.80" fill="url(#hg)" stroke="none"/>
<path d="M32.50 260.80H34.54M38.64 260.80H40.67M40.67 255.90H42.71M46.81 255.90H48.85M48.85 252.00H50.89M54.99 252.00H57.02M57.02 249.70H59.06M63.16 249.70H65.20M65.20 245.90H67.23M71.33 245.90H73.37M73.37 244.60H75.41M79.51 244.60H81.55M81.55 243.50H83.58M87.68 243.50H89.72M89.72 242.80H91.76M95.86 242.80H97.89M97.89 241.90H99.93M104.03 241.90H106.07M106.07 241.20H108.11M112.21 241.20H114.24M114.24 241.20H116.28M120.38 241.20H122.42M122.42 241.10H124.45M128.55 241.10H130.59M130.59 242.20H132.63M136.73 242.20H138.77M138.77 241.20H140.80M144.90 241.20H146.94M146.94 240.70H148.98M153.08 240.70H155.11M155.11 239.20H157.15M161.25 239.20H163.29M163.29 240.20H165.33M169.43 240.20H171.46M171.46 240.20H173.50M177.60 240.20H179.64M179.64 240.20H181.67M185.77 240.20H187.81M187.81 240.00H189.85M193.95 240.00H195.99M195.99 241.50H198.02M202.12 241.50H204.16M204.16 241.00H206.20M210.30 241.00H212.33M212.33 240.60H214.37M218.47 240.60H220.51M220.51 239.00H222.55M226.65 239.00H228.68M228.68 241.00H230.72M234.82 241.00H236.86M236.86 241.50H238.89M242.99 241.50H245.03M245.03 241.70H247.07M251.17 241.70H253.21M253.21 239.60H255.24M259.34 239.60H261.38M261.38 241.20H263.42M267.52 241.20H269.55M269.55 240.00H271.59M275.69 240.00H277.73M277.73 241.70H279.77M283.87 241.70H285.90M285.90 241.70H287.94M292.04 241.70H294.08M294.08 241.00H296.11M300.21 241.00H302.25M302.25 241.00H304.29M308.39 241.00H310.43M310.43 240.00H312.46M316.56 240.00H318.60" stroke="#44cc44" stroke-width="1.10" fill="none"/>
<circle cx="36.59" cy="260.80" r="1.50" fill="none" stroke="#44cc44" stroke-width="1.10"/>
<circle cx="44.76" cy="255.90" r="1.50" fill="none" stroke="#44cc44" stroke-width="1.10"/>
<circle cx="52.94" cy="252.00" r="1.50" fill="none" stroke="#44cc44" stroke-width="1.10"/>
<circle cx="61.11" cy="249.70" r="1.50" fill="none" stroke="#44cc44" stroke-width="1.10"/>
<circle cx="69.28" cy="245.90" r="1.50" fill="none" stroke="#44cc44" stroke-width="1.10"/>
<circle cx="77.46" cy="244.60" r="1.50" fill="none" stroke="#44cc44" stroke-width="1.10"/>
<circle cx="85.63" cy="243.50" r="1.50" fill="none" stroke="#44cc44" stroke-width="1.10"/>
<circle cx="93.81" cy="242.80" r="1.50" fill="none" stroke="#44cc44" stroke-width="1.10"/>
<circle cx="101.98" cy="241.90" r="1.50" fill="none" stroke="#44cc44" stroke-width="1.10"/>
<circle cx="110.16" cy="241.20" r="1.50" fill="none" stroke="#44cc44" stroke-width="1.10"/>
<circle cx="118.33" cy="241.20" r="1.50" fill="none" stroke="#44cc44" stroke-width="1.10"/>
<circle cx="126.50" cy="241.10" r="1.50" fill="none" stroke="#44cc44" stroke-width="1.10"/>
<circle cx="134.68" cy="242.20" r="1.50" fill="none" stroke="#44cc44" stroke-width="1.10"/>
<circle cx="142.85" cy="241.20" r="1.50" fill="none" stroke="#44cc44" stroke-width="1.10"/>
<circle cx="151.03" cy="240.70" r="1.50" fill="none" stroke="#44cc44" stroke-width="1.10"/>
<circle cx="159.20" cy="239.20" r="1.50" fill="none" stroke="#44cc44" stroke-width="1.10"/>
<circle cx="167.38" cy="240.20" r="1.50" fill="none" stroke="#44cc44" stroke-width="1.10"/>
<circle cx="175.55" cy="240.20" r="1.50" fill="none" stroke="#44cc44" stroke-width="1.10"/>
<circle cx="183.72" cy="240.20" r="1.50" fill="none" stroke="#44cc44" stroke-width="1.10"/>
<circle cx="191.90" cy="240.00" r="1.50" fill="none" stroke="#44cc44" stroke-width="1.10"/>
<circle cx="200.07" cy="241.50" r="1.50" fill="none" stroke="#44cc44" stroke-width="1.10"/>
<circle cx="208.25" cy="241.00" r="1.50" fill="none" stroke="#44cc44" stroke-width="1.10"/>
<circle cx="216.42" cy="240.60" r="1.50" fill="none" stroke="#44cc44" stroke-width="1.10"/>
<circle cx="224.60" cy="239.00" r="1.50" fill="none" stroke="#44cc44" stroke-width="1.10"/>
<circle cx="232.77" cy="241.00" r="1.50" fill="none" stroke="#44cc44" stroke-width="1.10"/>
<circle cx="240.94" cy="241.50" r="1.50" fill="none" stroke="#44cc44" stroke-width="1.10"/>
<circle cx="249.12" cy="241.70" r="1.50" fill="none" stroke="#44cc44" stroke-width="1.10"/>
<circle cx="257.29" cy="239.60" r="1.50" fill="none" stroke="#44cc44" stroke-width="1.10"/>
<circle cx="265.47" cy="241.20" r="1.50" fill="none" stroke="#44cc44" stroke-width="1.10"/>
<circle cx="273.64" cy="240.00" r="1.50" fill="none" stroke="#44cc44" stroke-width="1.10"/>
<circle cx="281.82" cy="241.70" r="1.50" fill="none" stroke="#44cc44" stroke-width="1.10"/>
<circle cx="289.99" cy="241.70" r="1.50" fill="none" stroke="#44cc44" stroke-width="1.10"/>
<circle cx="298.16" cy="241.00" r="1.50" fill="none" stroke="#44cc44" stroke-width="1.10"/>
<circle cx="306.34" cy="241.00" r="1.50" fill="none" stroke="#44cc44" stroke-width="1.10"/>
<circle cx="314.51" cy="240.00" r="1.50" fill="none" stroke="#44cc44" stroke-width="1.10"/>
<polygon points="36.59,227.10 44.76,225.30 52.94,225.10 61.11,229.40 69.28,229.60 77.46,231.70 85.63,234.10 93.81,234.40 101.98,234.10 110.16,234.80 118.33,236.90 126.50,237.50 134.68,237.30 142.85,236.30 151.03,238.10 159.20,236.90 167.38,238.10 175.55,238.10 183.72,238.30 191.90,239.00 200.07,243.20 208.25,242.90 216.42,242.50 224.60,243.10 232.77,242.80 240.94,243.70 249.12,244.90 257.29,243.10 265.47,244.30 273.64,242.50 281.82,244.30 289.99,244.90 298.16,243.70 306.34,243.10 314.51,242.50 314.51,244.50 306.34,245.10 298.16,245.70 289.99,246.90 281.82,246.30 273.64,244.50 265.47,246.30 257.29,245.10 249.12,246.90 240.94,245.70 232.77,244.80 224.60,245.10 216.42,244.50 208.25,244.90 200.07,245.20 191.90,241.00 183.72,240.30 175.55,240.10 167.38,240.10 159.20,238.90 151.03,240.10 142.85,238.30 134.68,239.30 126.50,239.50 118.33,238.90 110.16,236.80 101.98,236.10 93.81,236.40 85.63,236.10 77.46,233.70 69.28,231.60 61.11,231.40 52.94,227.10 44.76,227.30 36.59,229.10" fill="url(#hm)" stroke="none"/>
<path d="M32.50 228.10H34.34M38.84 228.10H40.67M40.67 226.30H42.51M47.01 226.30H48.85M48.85 226.10H50.69M55.19 226.10H57.02M57.02 230.40H58.86M63.36 230.40H65.20M65.20 230.60H67.03M71.53 230.60H73.37M73.37 232.70H75.21M79.71 232.70H81.55M81.55 235.10H83.38M87.88 235.10H89.72M89.72 235.40H91.56M96.06 235.40H97.89M97.89 235.10H99.73M104.23 235.10H106.07M106.07 235.80H107.91M112.41 235.80H114.24M114.24 237.90H116.08M120.58 237.90H122.42M122.42 238.50H124.25M128.75 238.50H130.59M130.59 238.30H132.43M136.93 238.30H138.77M138.77 237.30H140.60M145.10 237.30H146.94M146.94 239.10H148.78M153.28 239.10H155.11M155.11 237.90H156.95M161.45 237.90H163.29M163.29 239.10H165.13M169.63 239.10H171.46M171.46 239.10H173.30M177.80 239.10H179.64M179.64 239.30H181.47M185.97 239.30H187.81M187.81 240.00H189.65M194.15 240.00H195.99M195.99 244.20H197.82M202.32 244.20H204.16M204.16 243.90H206.00M210.50 243.90H212.33M212.33 243.50H214.17M218.67 243.50H220.51M220.51 244.10H222.35M226.85 244.10H228.68M228.68 243.80H230.52M235.02 243.80H236.86M236.86 244.70H238.69M243.19 244.70H245.03M245.03 245.90H246.87M251.37 245.90H253.21M253.21 244.10H255.04M259.54 244.10H261.38M261.38 245.30H263.22M267.72 245.30H269.55M269.55 243.50H271.39M275.89 243.50H277.73M277.73 245.30H279.57M284.07 245.30H285.90M285.90 245.90H287.74M292.24 245.90H294.08M294.08 244.70H295.91M300.41 244.70H302.25M302.25 244.10H304.09M308.59 244.10H310.43M310.43 243.50H312.26M316.76 243.50H318.60" stroke="#ff00ff" stroke-width="1.25" fill="none"/>
<circle cx="36.59" cy="228.10" r="1.60" fill="none" stroke="#ff00ff" stroke-width="1.30"/>
<circle cx="44.76" cy="226.30" r="1.60" fill="none" stroke="#ff00ff" stroke-width="1.30"/>
<circle cx="52.94" cy="226.10" r="1.60" fill="none" stroke="#ff00ff" stroke-width="1.30"/>
<circle cx="61.11" cy="230.40" r="1.60" fill="none" stroke="#ff00ff" stroke-width="1.30"/>
<circle cx="69.28" cy="230.60" r="1.60" fill="none" stroke="#ff00ff" stroke-width="1.30"/>
<circle cx="77.46" cy="232.70" r="1.60" fill="none" stroke="#ff00ff" stroke-width="1.30"/>
<circle cx="85.63" cy="235.10" r="1.60" fill="none" stroke="#ff00ff" stroke-width="1.30"/>
<circle cx="93.81" cy="235.40" r="1.60" fill="none" stroke="#ff00ff" stroke-width="1.30"/>
<circle cx="101.98" cy="235.10" r="1.60" fill="none" stroke="#ff00ff" stroke-width="1.30"/>
<circle cx="110.16" cy="235.80" r="1.60" fill="none" stroke="#ff00ff" stroke-width="1.30"/>
<circle cx="118.33" cy="237.90" r="1.60" fill="none" stroke="#ff00ff" stroke-width="1.30"/>
<circle cx="126.50" cy="238.50" r="1.60" fill="none" stroke="#ff00ff" stroke-width="1.30"/>
<circle cx="134.68" cy="238.30" r="1.60" fill="none" stroke="#ff00ff" stroke-width="1.30"/>
<circle cx="142.85" cy="237.30" r="1.60" fill="none" stroke="#ff00ff" stroke-width="1.30"/>
<circle cx="151.03" cy="239.10" r="1.60" fill="none" stroke="#ff00ff" stroke-width="1.30"/>
<circle cx="159.20" cy="237.90" r="1.60" fill="none" stroke="#ff00ff" stroke-width="1.30"/>
<circle cx="167.38" cy="239.10" r="1.60" fill="none" stroke="#ff00ff" stroke-width="1.30"/>
<circle cx="175.55" cy="239.10" r="1.60" fill="none" stroke="#ff00ff" stroke-width="1.30"/>
<circle cx="183.72" cy="239.30" r="1.60" fill="none" stroke="#ff00ff" stroke-width="1.30"/>
<circle cx="191.90" cy="240.00" r="1.60" fill="none" stroke="#ff00ff" stroke-width="1.30"/>
<circle cx="200.07" cy="244.20" r="1.60" fill="none" stroke="#ff00ff" stroke-width="1.30"/>
<circle cx="208.25" cy="243.90" r="1.60" fill="none" stroke="#ff00ff" stroke-width="1.30"/>
<circle cx="216.42" cy="243.50" r="1.60" fill="none" stroke="#ff00ff" stroke-width="1.30"/>
<circle cx="224.60" cy="244.10" r="1.60" fill="none" stroke="#ff00ff" stroke-width="1.30"/>
<circle cx="232.77" cy="243.80" r="1.60" fill="none" stroke="#ff00ff" stroke-width="1.30"/>
<circle cx="240.94" cy="244.70" r="1.60" fill="none" stroke="#ff00ff" stroke-width="1.30"/>
<circle cx="249.12" cy="245.90" r="1.60" fill="none" stroke="#ff00ff" stroke-width="1.30"/>
<circle cx="257.29" cy="244.10" r="1.60" fill="none" stroke="#ff00ff" stroke-width="1.30"/>
<circle cx="265.47" cy="245.30" r="1.60" fill="none" stroke="#ff00ff" stroke-width="1.30"/>
<circle cx="273.64" cy="243.50" r="1.60" fill="none" stroke="#ff00ff" stroke-width="1.30"/>
<circle cx="281.82" cy="245.30" r="1.60" fill="none" stroke="#ff00ff" stroke-width="1.30"/>
<circle cx="289.99" cy="245.90" r="1.60" fill="none" stroke="#ff00ff" stroke-width="1.30"/>
<circle cx="298.16" cy="244.70" r="1.60" fill="none" stroke="#ff00ff" stroke-width="1.30"/>
<circle cx="306.34" cy="244.10" r="1.60" fill="none" stroke="#ff00ff" stroke-width="1.30"/>
<circle cx="314.51" cy="243.50" r="1.60" fill="none" stroke="#ff00ff" stroke-width="1.30"/>
<path d="M32.50 241.85H318.60" stroke="#ff0000" stroke-width="2.2"/>
</g>
<text x="31.2" y="284.35" font-family="Liberation Sans, sans-serif" font-size="11.3" text-anchor="end" fill="#000" stroke="#000" stroke-width="0.3">0.8</text>
<text x="31.2" y="265.30" font-family="Liberation Sans, sans-serif" font-size="11.3" text-anchor="end" fill="#000" stroke="#000" stroke-width="0.3">0.9</text>
<text x="31.2" y="246.25" font-family="Liberation Sans, sans-serif" font-size="11.3" text-anchor="end" fill="#000" stroke="#000" stroke-width="0.3">1</text>
<text x="31.2" y="227.20" font-family="Liberation Sans, sans-serif" font-size="11.3" text-anchor="end" fill="#000" stroke="#000" stroke-width="0.3">1.1</text>
<text x="31.2" y="208.15" font-family="Liberation Sans, sans-serif" font-size="11.3" text-anchor="end" fill="#000" stroke="#000" stroke-width="0.3">1.2</text>
<text x="32.50" y="307.7" font-family="Liberation Sans, sans-serif" font-size="11.4" text-anchor="middle" fill="#000" stroke="#000" stroke-width="0.3">−1</text>
<text x="73.37" y="307.7" font-family="Liberation Sans, sans-serif" font-size="11.4" text-anchor="middle" fill="#000" stroke="#000" stroke-width="0.3">−0.5</text>
<text x="114.24" y="307.7" font-family="Liberation Sans, sans-serif" font-size="11.4" text-anchor="middle" fill="#000" stroke="#000" stroke-width="0.3">0</text>
<text x="155.11" y="307.7" font-family="Liberation Sans, sans-serif" font-size="11.4" text-anchor="middle" fill="#000" stroke="#000" stroke-width="0.3">0.5</text>
<text x="195.99" y="307.7" font-family="Liberation Sans, sans-serif" font-size="11.4" text-anchor="middle" fill="#000" stroke="#000" stroke-width="0.3">1</text>
<text x="236.86" y="307.7" font-family="Liberation Sans, sans-serif" font-size="11.4" text-anchor="middle" fill="#000" stroke="#000" stroke-width="0.3">1.5</text>
<text x="277.73" y="307.7" font-family="Liberation Sans, sans-serif" font-size="11.4" text-anchor="middle" fill="#000" stroke="#000" stroke-width="0.3">2</text>
<text x="318.60" y="307.7" font-family="Liberation Sans, sans-serif" font-size="11.4" text-anchor="middle" fill="#000" stroke="#000" stroke-width="0.3">2.5</text>
<text transform="translate(11.1,302) rotate(-90)" font-family="Liberation Sans, sans-serif" font-size="11.4" fill="#000" stroke="#000" stroke-width="0.15">Ratio to QGSJET-II-03</text>
<text x="318.6" y="319.1" font-family="Liberation Sans, sans-serif" font-size="12" text-anchor="end" fill="#000" stroke="#000" stroke-width="0.08">log10(E<tspan dy="5.2" font-size="7.9">true</tspan><tspan dy="-5.2">/TeV)</tspan></text>
</g>
<g transform="translate(358.0,0)">
<rect x="32.50" y="0.40" width="286.10" height="183.90" fill="none" stroke="#000" stroke-width="1"/>
<path d="M32.50 181.34h5.12M32.50 178.58h5.12M32.50 176.19h5.12M32.50 174.09h5.12M32.50 172.20h9.30M32.50 159.80h5.12M32.50 152.54h5.12M32.50 147.40h5.12M32.50 143.40h5.12M32.50 140.14h5.12M32.50 137.38h5.12M32.50 134.99h5.12M32.50 132.89h5.12M32.50 131.00h9.30M32.50 118.60h5.12M32.50 111.34h5.12M32.50 106.20h5.12M32.50 102.20h5.12M32.50 98.94h5.12M32.50 96.18h5.12M32.50 93.79h5.12M32.50 91.69h5.12M32.50 89.80h9.30M32.50 77.40h5.12M32.50 70.14h5.12M32.50 65.00h5.12M32.50 61.00h5.12M32.50 57.74h5.12M32.50 54.98h5.12M32.50 52.59h5.12M32.50 50.49h5.12M32.50 48.60h9.30M32.50 36.20h5.12M32.50 28.94h5.12M32.50 23.80h5.12M32.50 19.80h5.12M32.50 16.54h5.12M32.50 13.78h5.12M32.50 11.39h5.12M32.50 9.29h5.12M32.50 7.40h9.30M32.50 184.30v-5.00M40.67 184.30v-2.50M48.85 184.30v-2.50M57.02 184.30v-2.50M65.20 184.30v-2.50M73.37 184.30v-5.00M81.55 184.30v-2.50M89.72 184.30v-2.50M97.89 184.30v-2.50M106.07 184.30v-2.50M114.24 184.30v-5.00M122.42 184.30v-2.50M130.59 184.30v-2.50M138.77 184.30v-2.50M146.94 184.30v-2.50M155.11 184.30v-5.00M163.29 184.30v-2.50M171.46 184.30v-2.50M179.64 184.30v-2.50M187.81 184.30v-2.50M195.99 184.30v-5.00M204.16 184.30v-2.50M212.33 184.30v-2.50M220.51 184.30v-2.50M228.68 184.30v-2.50M236.86 184.30v-5.00M245.03 184.30v-2.50M253.21 184.30v-2.50M261.38 184.30v-2.50M269.55 184.30v-2.50M277.73 184.30v-5.00M285.90 184.30v-2.50M294.08 184.30v-2.50M302.25 184.30v-2.50M310.43 184.30v-2.50M318.60 184.30v-5.00" stroke="#000" stroke-width="1" fill="none"/>
<g transform="translate(29.6,178.10) scale(0.9,1)"><text x="0" y="0" font-family="Liberation Sans, sans-serif" font-size="12" text-anchor="end" fill="#000" stroke="#000" stroke-width="0.2">10<tspan dy="-5.9" font-size="7.6">3</tspan></text></g>
<g transform="translate(29.6,136.90) scale(0.9,1)"><text x="0" y="0" font-family="Liberation Sans, sans-serif" font-size="12" text-anchor="end" fill="#000" stroke="#000" stroke-width="0.2">10<tspan dy="-5.9" font-size="7.6">4</tspan></text></g>
<g transform="translate(29.6,95.70) scale(0.9,1)"><text x="0" y="0" font-family="Liberation Sans, sans-serif" font-size="12" text-anchor="end" fill="#000" stroke="#000" stroke-width="0.2">10<tspan dy="-5.9" font-size="7.6">5</tspan></text></g>
<g transform="translate(29.6,54.50) scale(0.9,1)"><text x="0" y="0" font-family="Liberation Sans, sans-serif" font-size="12" text-anchor="end" fill="#000" stroke="#000" stroke-width="0.2">10<tspan dy="-5.9" font-size="7.6">6</tspan></text></g>
<g transform="translate(29.6,13.30) scale(0.9,1)"><text x="0" y="0" font-family="Liberation Sans, sans-serif" font-size="12" text-anchor="end" fill="#000" stroke="#000" stroke-width="0.2">10<tspan dy="-5.9" font-size="7.6">7</tspan></text></g>
<text transform="translate(9.60,93.40) rotate(-90)" font-family="Liberation Sans, sans-serif" font-size="10.5" fill="#000" stroke="#000" stroke-width="0.15">Collection Area (m<tspan dy="-4" font-size="7.5">2</tspan><tspan dy="4">)</tspan></text>
<text x="73.2" y="20.6" font-family="Liberation Sans, sans-serif" font-size="10" font-weight="bold" fill="#858585">input angle &lt; 1 deg.</text>
<g clip-path="url(#cu0)">
<path d="M32.50 114.83H40.67M36.59 114.03V115.63M40.67 103.22H48.85M44.76 102.42V104.02M48.85 92.23H57.02M52.94 91.43V93.03M57.02 83.17H65.20M61.11 82.37V83.97M65.20 75.21H73.37M69.28 74.41V76.01M73.37 68.44H81.55M77.46 67.64V69.24M81.55 62.73H89.72M85.63 61.93V63.53M89.72 58.74H97.89M93.81 57.94V59.54M97.89 54.34H106.07M101.98 53.54V55.14M106.07 51.20H114.24M110.16 50.40V52.00M114.24 47.16H122.42M118.33 46.36V47.96M122.42 44.31H130.59M126.50 43.51V45.11M130.59 41.18H138.77M134.68 40.38V41.98M138.77 38.02H146.94M142.85 37.22V38.82M146.94 34.76H155.11M151.03 33.96V35.56M155.11 30.99H163.29M159.20 30.19V31.79M163.29 28.69H171.46M167.38 27.89V29.49M171.46 26.48H179.64M175.55 25.68V27.28M179.64 25.59H187.81M183.72 24.79V26.39M187.81 24.09H195.99M191.90 23.29V24.89M195.99 21.89H204.16M200.07 21.09V22.69M204.16 22.37H212.33M208.25 21.57V23.17M212.33 21.54H220.51M216.42 20.74V22.34M220.51 19.27H228.68M224.60 18.47V20.07M228.68 19.28H236.86M232.77 18.48V20.08M236.86 18.11H245.03M240.94 17.31V18.91M245.03 17.11H253.21M249.12 16.31V17.91M253.21 16.12H261.38M257.29 15.32V16.92M261.38 14.67H269.55M265.47 13.87V15.47M269.55 14.39H277.73M273.64 13.59V15.19M277.73 13.56H285.90M281.82 12.76V14.36M285.90 14.89H294.08M289.99 14.09V15.69M294.08 12.93H302.25M298.16 12.13V13.73M302.25 14.19H310.43M306.34 13.39V14.99M310.43 12.77H318.60M314.51 11.97V13.57" stroke="#ff0000" stroke-width="1.30" fill="none"/>
<path d="M32.50 117.26H34.34M38.84 117.26H40.67M40.67 105.17H42.51M47.01 105.17H48.85M48.85 93.66H50.69M55.19 93.66H57.02M57.02 84.29H58.86M63.36 84.29H65.20M65.20 75.59H67.03M71.53 75.59H73.37M73.37 68.71H75.21M79.71 68.71H81.55M81.55 62.56H83.38M87.88 62.56H89.72M89.72 58.48H91.56M96.06 58.48H97.89M97.89 54.21H99.73M104.23 54.21H106.07M106.07 50.94H107.91M112.41 50.94H114.24M114.24 47.02H116.08M120.58 47.02H122.42M122.42 44.14H124.25M128.75 44.14H130.59M130.59 41.10H132.43M136.93 41.10H138.77M138.77 38.13H140.60M145.10 38.13H146.94M146.94 33.97H148.78M153.28 33.97H155.11M155.11 30.73H156.95M161.45 30.73H163.29M163.29 28.50H165.13M169.63 28.50H171.46M171.46 26.71H173.30M177.80 26.71H179.64M179.64 25.82H181.47M185.97 25.82H187.81M187.81 24.47H189.65M194.15 24.47H195.99M195.99 22.27H197.82M202.32 22.27H204.16M204.16 22.02H206.00M210.50 22.02H212.33M212.33 21.19H214.17M218.67 21.19H220.51M220.51 19.00H222.35M226.85 19.00H228.68M228.68 18.74H230.52M235.02 18.74H236.86M236.86 18.43H238.69M243.19 18.43H245.03M245.03 17.24H246.87M251.37 17.24H253.21M253.21 17.73H255.04M259.54 17.73H261.38M261.38 15.21H263.22M267.72 15.21H269.55M269.55 14.00H271.39M275.89 14.00H277.73M277.73 14.05H279.57M284.07 14.05H285.90M285.90 14.72H287.74M292.24 14.72H294.08M294.08 8.89H295.91M300.41 8.89H302.25M302.25 13.65H304.09M308.59 13.65H310.43M310.43 12.08H312.26M316.76 12.08H318.60" stroke="#44cc44" stroke-width="1.30" fill="none"/>
<circle cx="36.59" cy="117.26" r="1.70" fill="none" stroke="#44cc44" stroke-width="1.10"/>
<circle cx="44.76" cy="105.17" r="1.70" fill="none" stroke="#44cc44" stroke-width="1.10"/>
<circle cx="52.94" cy="93.66" r="1.70" fill="none" stroke="#44cc44" stroke-width="1.10"/>
<circle cx="61.11" cy="84.29" r="1.70" fill="none" stroke="#44cc44" stroke-width="1.10"/>
<circle cx="69.28" cy="75.59" r="1.70" fill="none" stroke="#44cc44" stroke-width="1.10"/>
<circle cx="77.46" cy="68.71" r="1.70" fill="none" stroke="#44cc44" stroke-width="1.10"/>
<circle cx="85.63" cy="62.56" r="1.70" fill="none" stroke="#44cc44" stroke-width="1.10"/>
<circle cx="93.81" cy="58.48" r="1.70" fill="none" stroke="#44cc44" stroke-width="1.10"/>
<circle cx="101.98" cy="54.21" r="1.70" fill="none" stroke="#44cc44" stroke-width="1.10"/>
<circle cx="110.16" cy="50.94" r="1.70" fill="none" stroke="#44cc44" stroke-width="1.10"/>
<circle cx="118.33" cy="47.02" r="1.70" fill="none" stroke="#44cc44" stroke-width="1.10"/>
<circle cx="126.50" cy="44.14" r="1.70" fill="none" stroke="#44cc44" stroke-width="1.10"/>
<circle cx="134.68" cy="41.10" r="1.70" fill="none" stroke="#44cc44" stroke-width="1.10"/>
<circle cx="142.85" cy="38.13" r="1.70" fill="none" stroke="#44cc44" stroke-width="1.10"/>
<circle cx="151.03" cy="33.97" r="1.70" fill="none" stroke="#44cc44" stroke-width="1.10"/>
<circle cx="159.20" cy="30.73" r="1.70" fill="none" stroke="#44cc44" stroke-width="1.10"/>
<circle cx="167.38" cy="28.50" r="1.70" fill="none" stroke="#44cc44" stroke-width="1.10"/>
<circle cx="175.55" cy="26.71" r="1.70" fill="none" stroke="#44cc44" stroke-width="1.10"/>
<circle cx="183.72" cy="25.82" r="1.70" fill="none" stroke="#44cc44" stroke-width="1.10"/>
<circle cx="191.90" cy="24.47" r="1.70" fill="none" stroke="#44cc44" stroke-width="1.10"/>
<circle cx="200.07" cy="22.27" r="1.70" fill="none" stroke="#44cc44" stroke-width="1.10"/>
<circle cx="208.25" cy="22.02" r="1.70" fill="none" stroke="#44cc44" stroke-width="1.10"/>
<circle cx="216.42" cy="21.19" r="1.70" fill="none" stroke="#44cc44" stroke-width="1.10"/>
<circle cx="224.60" cy="19.00" r="1.70" fill="none" stroke="#44cc44" stroke-width="1.10"/>
<circle cx="232.77" cy="18.74" r="1.70" fill="none" stroke="#44cc44" stroke-width="1.10"/>
<circle cx="240.94" cy="18.43" r="1.70" fill="none" stroke="#44cc44" stroke-width="1.10"/>
<circle cx="249.12" cy="17.24" r="1.70" fill="none" stroke="#44cc44" stroke-width="1.10"/>
<circle cx="257.29" cy="17.73" r="1.70" fill="none" stroke="#44cc44" stroke-width="1.10"/>
<circle cx="265.47" cy="15.21" r="1.70" fill="none" stroke="#44cc44" stroke-width="1.10"/>
<circle cx="273.64" cy="14.00" r="1.70" fill="none" stroke="#44cc44" stroke-width="1.10"/>
<circle cx="281.82" cy="14.05" r="1.70" fill="none" stroke="#44cc44" stroke-width="1.10"/>
<circle cx="289.99" cy="14.72" r="1.70" fill="none" stroke="#44cc44" stroke-width="1.10"/>
<circle cx="298.16" cy="8.89" r="1.70" fill="none" stroke="#44cc44" stroke-width="1.10"/>
<circle cx="306.34" cy="13.65" r="1.70" fill="none" stroke="#44cc44" stroke-width="1.10"/>
<circle cx="314.51" cy="12.08" r="1.70" fill="none" stroke="#44cc44" stroke-width="1.10"/>
<path d="M32.50 115.20H40.67M36.59 114.40V116.00M40.67 103.64H48.85M44.76 102.84V104.44M48.85 93.08H57.02M52.94 92.28V93.88M57.02 83.96H65.20M61.11 83.16V84.76M65.20 75.90H73.37M69.28 75.10V76.70M73.37 68.98H81.55M77.46 68.18V69.78M81.55 63.09H89.72M85.63 62.29V63.89M89.72 58.90H97.89M93.81 58.10V59.70M97.89 54.55H106.07M101.98 53.75V55.35M106.07 51.71H114.24M110.16 50.91V52.51M114.24 47.54H122.42M118.33 46.74V48.34M122.42 44.58H130.59M126.50 43.78V45.38M130.59 41.45H138.77M134.68 40.65V42.25M138.77 38.41H146.94M142.85 37.61V39.21M146.94 34.63H155.11M151.03 33.83V35.43M155.11 31.65H163.29M159.20 30.85V32.45M163.29 29.43H171.46M167.38 28.63V30.23M171.46 27.22H179.64M175.55 26.42V28.02M179.64 26.27H187.81M183.72 25.47V27.07M187.81 24.61H195.99M191.90 23.81V25.41M195.99 22.42H204.16M200.07 21.62V23.22M204.16 21.47H212.33M208.25 20.67V22.27M212.33 21.77H220.51M216.42 20.97V22.57M220.51 20.25H228.68M224.60 19.45V21.05M228.68 19.58H236.86M232.77 18.78V20.38M236.86 19.14H245.03M240.94 18.34V19.94M245.03 16.91H253.21M249.12 16.11V17.71M253.21 16.71H261.38M257.29 15.91V17.51M261.38 16.86H269.55M265.47 16.06V17.66M269.55 15.89H277.73M273.64 15.09V16.69M277.73 14.49H285.90M281.82 13.69V15.29M285.90 15.34H294.08M289.99 14.54V16.14M294.08 13.27H302.25M298.16 12.47V14.07M302.25 11.74H310.43M306.34 10.94V12.54M310.43 9.95H318.60M314.51 9.15V10.75" stroke="#0000ff" stroke-width="1.30" fill="none"/>
<path d="M32.50 114.30H33.96M39.21 114.30H40.67M40.67 102.50H42.14M47.39 102.50H48.85M48.85 91.60H50.31M55.56 91.60H57.02M57.02 82.70H58.49M63.74 82.70H65.20M65.20 74.30H66.66M71.91 74.30H73.37M73.37 67.90H74.83M80.08 67.90H81.55M81.55 62.30H83.01M88.26 62.30H89.72M89.72 58.00H91.18M96.43 58.00H97.89M97.89 53.80H99.36M104.61 53.80H106.07M106.07 50.60H107.53M112.78 50.60H114.24M114.24 46.90H115.71M120.96 46.90H122.42M122.42 44.00H123.88M129.13 44.00H130.59M130.59 40.90H132.05M137.30 40.90H138.77M138.77 37.70H140.23M145.48 37.70H146.94M146.94 34.10H148.40M153.65 34.10H155.11M155.11 31.20H156.58M161.83 31.20H163.29M163.29 28.50H164.75M170.00 28.50H171.46M171.46 26.80H172.93M178.18 26.80H179.64M179.64 25.10H181.10M186.35 25.10H187.81M187.81 24.10H189.27M194.52 24.10H195.99M195.99 22.80H197.45M202.70 22.80H204.16M204.16 21.90H205.62M210.87 21.90H212.33M212.33 20.60H213.80M219.05 20.60H220.51M220.51 19.80H221.97M227.22 19.80H228.68M228.68 18.60H230.15M235.40 18.60H236.86M236.86 17.90H238.32M243.57 17.90H245.03M245.03 17.50H246.49M251.74 17.50H253.21M253.21 17.10H254.67M259.92 17.10H261.38M261.38 16.20H262.84M268.09 16.20H269.55M269.55 15.40H271.02M276.27 15.40H277.73M277.73 14.80H279.19M284.44 14.80H285.90M285.90 13.80H287.37M292.62 13.80H294.08M294.08 13.50H295.54M300.79 13.50H302.25M302.25 13.00H303.71M308.96 13.00H310.43M310.43 12.60H311.89M317.14 12.60H318.60" stroke="#ff00ff" stroke-width="1.50" fill="none"/>
<circle cx="36.59" cy="114.30" r="1.90" fill="none" stroke="#ff00ff" stroke-width="1.45"/>
<circle cx="44.76" cy="102.50" r="1.90" fill="none" stroke="#ff00ff" stroke-width="1.45"/>
<circle cx="52.94" cy="91.60" r="1.90" fill="none" stroke="#ff00ff" stroke-width="1.45"/>
<circle cx="61.11" cy="82.70" r="1.90" fill="none" stroke="#ff00ff" stroke-width="1.45"/>
<circle cx="69.28" cy="74.30" r="1.90" fill="none" stroke="#ff00ff" stroke-width="1.45"/>
<circle cx="77.46" cy="67.90" r="1.90" fill="none" stroke="#ff00ff" stroke-width="1.45"/>
<circle cx="85.63" cy="62.30" r="1.90" fill="none" stroke="#ff00ff" stroke-width="1.45"/>
<circle cx="93.81" cy="58.00" r="1.90" fill="none" stroke="#ff00ff" stroke-width="1.45"/>
<circle cx="101.98" cy="53.80" r="1.90" fill="none" stroke="#ff00ff" stroke-width="1.45"/>
<circle cx="110.16" cy="50.60" r="1.90" fill="none" stroke="#ff00ff" stroke-width="1.45"/>
<circle cx="118.33" cy="46.90" r="1.90" fill="none" stroke="#ff00ff" stroke-width="1.45"/>
<circle cx="126.50" cy="44.00" r="1.90" fill="none" stroke="#ff00ff" stroke-width="1.45"/>
<circle cx="134.68" cy="40.90" r="1.90" fill="none" stroke="#ff00ff" stroke-width="1.45"/>
<circle cx="142.85" cy="37.70" r="1.90" fill="none" stroke="#ff00ff" stroke-width="1.45"/>
<circle cx="151.03" cy="34.10" r="1.90" fill="none" stroke="#ff00ff" stroke-width="1.45"/>
<circle cx="159.20" cy="31.20" r="1.90" fill="none" stroke="#ff00ff" stroke-width="1.45"/>
<circle cx="167.38" cy="28.50" r="1.90" fill="none" stroke="#ff00ff" stroke-width="1.45"/>
<circle cx="175.55" cy="26.80" r="1.90" fill="none" stroke="#ff00ff" stroke-width="1.45"/>
<circle cx="183.72" cy="25.10" r="1.90" fill="none" stroke="#ff00ff" stroke-width="1.45"/>
<circle cx="191.90" cy="24.10" r="1.90" fill="none" stroke="#ff00ff" stroke-width="1.45"/>
<circle cx="200.07" cy="22.80" r="1.90" fill="none" stroke="#ff00ff" stroke-width="1.45"/>
<circle cx="208.25" cy="21.90" r="1.90" fill="none" stroke="#ff00ff" stroke-width="1.45"/>
<circle cx="216.42" cy="20.60" r="1.90" fill="none" stroke="#ff00ff" stroke-width="1.45"/>
<circle cx="224.60" cy="19.80" r="1.90" fill="none" stroke="#ff00ff" stroke-width="1.45"/>
<circle cx="232.77" cy="18.60" r="1.90" fill="none" stroke="#ff00ff" stroke-width="1.45"/>
<circle cx="240.94" cy="17.90" r="1.90" fill="none" stroke="#ff00ff" stroke-width="1.45"/>
<circle cx="249.12" cy="17.50" r="1.90" fill="none" stroke="#ff00ff" stroke-width="1.45"/>
<circle cx="257.29" cy="17.10" r="1.90" fill="none" stroke="#ff00ff" stroke-width="1.45"/>
<circle cx="265.47" cy="16.20" r="1.90" fill="none" stroke="#ff00ff" stroke-width="1.45"/>
<circle cx="273.64" cy="15.40" r="1.90" fill="none" stroke="#ff00ff" stroke-width="1.45"/>
<circle cx="281.82" cy="14.80" r="1.90" fill="none" stroke="#ff00ff" stroke-width="1.45"/>
<circle cx="289.99" cy="13.80" r="1.90" fill="none" stroke="#ff00ff" stroke-width="1.45"/>
<circle cx="298.16" cy="13.50" r="1.90" fill="none" stroke="#ff00ff" stroke-width="1.45"/>
<circle cx="306.34" cy="13.00" r="1.90" fill="none" stroke="#ff00ff" stroke-width="1.45"/>
<circle cx="314.51" cy="12.60" r="1.90" fill="none" stroke="#ff00ff" stroke-width="1.45"/>
<circle cx="36.59" cy="115.20" r="1.15" fill="#0000ff"/>
<circle cx="44.76" cy="103.64" r="1.15" fill="#0000ff"/>
<circle cx="52.94" cy="93.08" r="1.15" fill="#0000ff"/>
<circle cx="61.11" cy="83.96" r="1.15" fill="#0000ff"/>
<circle cx="69.28" cy="75.90" r="1.15" fill="#0000ff"/>
<circle cx="77.46" cy="68.98" r="1.15" fill="#0000ff"/>
<circle cx="85.63" cy="63.09" r="1.15" fill="#0000ff"/>
<circle cx="93.81" cy="58.90" r="1.15" fill="#0000ff"/>
<circle cx="101.98" cy="54.55" r="1.15" fill="#0000ff"/>
<circle cx="110.16" cy="51.71" r="1.15" fill="#0000ff"/>
<circle cx="118.33" cy="47.54" r="1.15" fill="#0000ff"/>
<circle cx="126.50" cy="44.58" r="1.15" fill="#0000ff"/>
<circle cx="134.68" cy="41.45" r="1.15" fill="#0000ff"/>
<circle cx="142.85" cy="38.41" r="1.15" fill="#0000ff"/>
<circle cx="151.03" cy="34.63" r="1.15" fill="#0000ff"/>
<circle cx="159.20" cy="31.65" r="1.15" fill="#0000ff"/>
<circle cx="167.38" cy="29.43" r="1.15" fill="#0000ff"/>
<circle cx="175.55" cy="27.22" r="1.15" fill="#0000ff"/>
<circle cx="183.72" cy="26.27" r="1.15" fill="#0000ff"/>
<circle cx="191.90" cy="24.61" r="1.15" fill="#0000ff"/>
<circle cx="200.07" cy="22.42" r="1.15" fill="#0000ff"/>
<circle cx="208.25" cy="21.47" r="1.15" fill="#0000ff"/>
<circle cx="216.42" cy="21.77" r="1.15" fill="#0000ff"/>
<circle cx="224.60" cy="20.25" r="1.15" fill="#0000ff"/>
<circle cx="232.77" cy="19.58" r="1.15" fill="#0000ff"/>
<circle cx="240.94" cy="19.14" r="1.15" fill="#0000ff"/>
<circle cx="249.12" cy="16.91" r="1.15" fill="#0000ff"/>
<circle cx="257.29" cy="16.71" r="1.15" fill="#0000ff"/>
<circle cx="265.47" cy="16.86" r="1.15" fill="#0000ff"/>
<circle cx="273.64" cy="15.89" r="1.15" fill="#0000ff"/>
<circle cx="281.82" cy="14.49" r="1.15" fill="#0000ff"/>
<circle cx="289.99" cy="15.34" r="1.15" fill="#0000ff"/>
<circle cx="298.16" cy="13.27" r="1.15" fill="#0000ff"/>
<circle cx="306.34" cy="11.74" r="1.15" fill="#0000ff"/>
<circle cx="314.51" cy="9.95" r="1.15" fill="#0000ff"/>
</g>
<rect x="211.40" y="62.30" width="100.00" height="61.60" fill="#fff" stroke="#000" stroke-width="1"/>
<path d="M218.3 64.70V75.50" stroke="#ffd0d0" stroke-width="0.9"/>
<path d="M221.6 64.70V75.50" stroke="#ffd0d0" stroke-width="0.9"/>
<path d="M226.4 64.70V75.50" stroke="#ffd0d0" stroke-width="0.9"/>
<path d="M229.4 64.70V75.50" stroke="#ffd0d0" stroke-width="0.9"/>
<path d="M215 70.00H233" stroke="#ff0000" stroke-width="2.2"/>
<circle cx="224" cy="70.00" r="1.8" fill="#ff0000"/>
<text x="236.6" y="73.50" font-family="Liberation Sans, sans-serif" font-size="9.9" fill="#000" stroke="#000" stroke-width="0.15">QGSJETII03</text>
<rect x="215" y="79.70" width="18.4" height="11.3" fill="url(#hb)"/>
<path d="M215 85.30H233" stroke="#0000ff" stroke-width="2.2"/>
<circle cx="224" cy="85.30" r="1.8" fill="#0000ff"/>
<text x="236.6" y="88.80" font-family="Liberation Sans, sans-serif" font-size="9.9" fill="#000" stroke="#000" stroke-width="0.15">QGSJETII04</text>
<rect x="215" y="95.00" width="18.4" height="11.3" fill="url(#hg)"/>
<path d="M215 100.60H233" stroke="#44cc44" stroke-width="2.2"/>
<circle cx="224" cy="100.60" r="1.8" fill="#44cc44"/>
<text x="236.6" y="104.10" font-family="Liberation Sans, sans-serif" font-size="9.9" fill="#000" stroke="#000" stroke-width="0.15">EPOSLHC</text>
<rect x="215" y="110.30" width="18.4" height="11.3" fill="url(#hm)"/>
<path d="M215 115.90H233" stroke="#ff00ff" stroke-width="2.2"/>
<circle cx="224" cy="115.90" r="1.8" fill="#ff00ff"/>
<text x="236.6" y="119.40" font-family="Liberation Sans, sans-serif" font-size="9.9" fill="#000" stroke="#000" stroke-width="0.15">SIBYLL2.3</text>
<path d="M73.37 186.60V296.50M114.24 186.60V296.50M155.11 186.60V296.50M195.99 186.60V296.50M236.86 186.60V296.50M277.73 186.60V296.50" stroke="#000" stroke-width="1" stroke-dasharray="1.3 2.48" stroke-dashoffset="3.53" fill="none"/>
<path d="M32.50 279.95H318.60M32.50 260.90H318.60M32.50 222.80H318.60M32.50 203.75H318.60" stroke="#000" stroke-width="1" stroke-dasharray="1.3 2.48" stroke-dashoffset="2.57" fill="none"/>
<rect x="32.50" y="186.60" width="286.10" height="109.90" fill="none" stroke="#000" stroke-width="1"/>
<path d="M32.50 296.50v-4.00M40.67 296.50v-1.60M48.85 296.50v-1.60M57.02 296.50v-1.60M65.20 296.50v-1.60M73.37 296.50v-4.00M81.55 296.50v-1.60M89.72 296.50v-1.60M97.89 296.50v-1.60M106.07 296.50v-1.60M114.24 296.50v-4.00M122.42 296.50v-1.60M130.59 296.50v-1.60M138.77 296.50v-1.60M146.94 296.50v-1.60M155.11 296.50v-4.00M163.29 296.50v-1.60M171.46 296.50v-1.60M179.64 296.50v-1.60M187.81 296.50v-1.60M195.99 296.50v-4.00M204.16 296.50v-1.60M212.33 296.50v-1.60M220.51 296.50v-1.60M228.68 296.50v-1.60M236.86 296.50v-4.00M245.03 296.50v-1.60M253.21 296.50v-1.60M261.38 296.50v-1.60M269.55 296.50v-1.60M277.73 296.50v-4.00M285.90 296.50v-1.60M294.08 296.50v-1.60M302.25 296.50v-1.60M310.43 296.50v-1.60M318.60 296.50v-4.00M32.50 295.19h4.19M32.50 291.38h4.19M32.50 287.57h4.19M32.50 283.76h4.19M32.50 279.95h9.30M32.50 276.14h4.19M32.50 272.33h4.19M32.50 268.52h4.19M32.50 264.71h4.19M32.50 260.90h9.30M32.50 257.09h4.19M32.50 253.28h4.19M32.50 249.47h4.19M32.50 245.66h4.19M32.50 241.85h9.30M32.50 238.04h4.19M32.50 234.23h4.19M32.50 230.42h4.19M32.50 226.61h4.19M32.50 222.80h9.30M32.50 218.99h4.19M32.50 215.18h4.19M32.50 211.37h4.19M32.50 207.56h4.19M32.50 203.75h9.30M32.50 199.94h4.19M32.50 196.13h4.19M32.50 192.32h4.19M32.50 188.51h4.19" stroke="#000" stroke-width="1" fill="none"/>
<path d="M29.2 189.5H32" stroke="#777" stroke-width="0.8"/>
<g clip-path="url(#cl0)">
<polygon points="36.59,244.20 44.76,244.70 52.94,249.20 61.11,248.60 69.28,247.50 77.46,246.00 85.63,244.10 93.81,242.00 101.98,242.60 110.16,245.70 118.33,244.40 126.50,243.20 134.68,243.20 142.85,244.40 151.03,238.30 159.20,246.60 167.38,247.40 175.55,247.30 183.72,246.80 191.90,245.20 200.07,243.90 208.25,228.50 216.42,240.80 224.60,248.50 232.77,241.50 240.94,249.00 249.12,235.20 257.29,243.50 265.47,259.30 273.64,252.70 281.82,247.00 289.99,240.60 298.16,239.40 306.34,207.90 314.51,203.30 314.51,215.30 306.34,219.90 298.16,251.40 289.99,252.60 281.82,256.00 273.64,261.70 265.47,268.30 257.29,252.50 249.12,244.20 240.94,256.00 232.77,248.50 224.60,255.50 216.42,247.80 208.25,235.50 200.07,250.90 191.90,249.60 183.72,251.20 175.55,251.70 167.38,251.80 159.20,251.00 151.03,242.70 142.85,247.40 134.68,246.20 126.50,246.20 118.33,247.40 110.16,248.70 101.98,245.60 93.81,245.00 85.63,247.10 77.46,249.00 69.28,250.50 61.11,251.60 52.94,252.20 44.76,247.70 36.59,247.20" fill="url(#hb)" stroke="none"/>
<path d="M32.50 245.70H40.67M36.59 244.20V247.20M40.67 246.20H48.85M44.76 244.70V247.70M48.85 250.70H57.02M52.94 249.20V252.20M57.02 250.10H65.20M61.11 248.60V251.60M65.20 249.00H73.37M69.28 247.50V250.50M73.37 247.50H81.55M77.46 246.00V249.00M81.55 245.60H89.72M85.63 244.10V247.10M89.72 243.50H97.89M93.81 242.00V245.00M97.89 244.10H106.07M101.98 242.60V245.60M106.07 247.20H114.24M110.16 245.70V248.70M114.24 245.90H122.42M118.33 244.40V247.40M122.42 244.70H130.59M126.50 243.20V246.20M130.59 244.70H138.77M134.68 243.20V246.20M138.77 245.90H146.94M142.85 244.40V247.40M146.94 240.50H155.11M151.03 238.30V242.70M155.11 248.80H163.29M159.20 246.60V251.00M163.29 249.60H171.46M167.38 247.40V251.80M171.46 249.50H179.64M175.55 247.30V251.70M179.64 249.00H187.81M183.72 246.80V251.20M187.81 247.40H195.99M191.90 245.20V249.60M195.99 247.40H204.16M200.07 243.90V250.90M204.16 232.00H212.33M208.25 228.50V235.50M212.33 244.30H220.51M216.42 240.80V247.80M220.51 252.00H228.68M224.60 248.50V255.50M228.68 245.00H236.86M232.77 241.50V248.50M236.86 252.50H245.03M240.94 249.00V256.00M245.03 239.70H253.21M249.12 235.20V244.20M253.21 248.00H261.38M257.29 243.50V252.50M261.38 263.80H269.55M265.47 259.30V268.30M269.55 257.20H277.73M273.64 252.70V261.70M277.73 251.50H285.90M281.82 247.00V256.00M285.90 246.60H294.08M289.99 240.60V252.60M294.08 245.40H302.25M298.16 239.40V251.40M302.25 213.90H310.43M306.34 207.90V219.90M310.43 209.30H318.60M314.51 203.30V215.30" stroke="#0000ff" stroke-width="1.70" fill="none"/>
<circle cx="36.59" cy="245.70" r="2.00" fill="#0000ff"/>
<circle cx="44.76" cy="246.20" r="2.00" fill="#0000ff"/>
<circle cx="52.94" cy="250.70" r="2.00" fill="#0000ff"/>
<circle cx="61.11" cy="250.10" r="2.00" fill="#0000ff"/>
<circle cx="69.28" cy="249.00" r="2.00" fill="#0000ff"/>
<circle cx="77.46" cy="247.50" r="2.00" fill="#0000ff"/>
<circle cx="85.63" cy="245.60" r="2.00" fill="#0000ff"/>
<circle cx="93.81" cy="243.50" r="2.00" fill="#0000ff"/>
<circle cx="101.98" cy="244.10" r="2.00" fill="#0000ff"/>
<circle cx="110.16" cy="247.20" r="2.00" fill="#0000ff"/>
<circle cx="118.33" cy="245.90" r="2.00" fill="#0000ff"/>
<circle cx="126.50" cy="244.70" r="2.00" fill="#0000ff"/>
<circle cx="134.68" cy="244.70" r="2.00" fill="#0000ff"/>
<circle cx="142.85" cy="245.90" r="2.00" fill="#0000ff"/>
<circle cx="151.03" cy="240.50" r="2.00" fill="#0000ff"/>
<circle cx="159.20" cy="248.80" r="2.00" fill="#0000ff"/>
<circle cx="167.38" cy="249.60" r="2.00" fill="#0000ff"/>
<circle cx="175.55" cy="249.50" r="2.00" fill="#0000ff"/>
<circle cx="183.72" cy="249.00" r="2.00" fill="#0000ff"/>
<circle cx="191.90" cy="247.40" r="2.00" fill="#0000ff"/>
<circle cx="200.07" cy="247.40" r="2.00" fill="#0000ff"/>
<circle cx="208.25" cy="232.00" r="2.00" fill="#0000ff"/>
<circle cx="216.42" cy="244.30" r="2.00" fill="#0000ff"/>
<circle cx="224.60" cy="252.00" r="2.00" fill="#0000ff"/>
<circle cx="232.77" cy="245.00" r="2.00" fill="#0000ff"/>
<circle cx="240.94" cy="252.50" r="2.00" fill="#0000ff"/>
<circle cx="249.12" cy="239.70" r="2.00" fill="#0000ff"/>
<circle cx="257.29" cy="248.00" r="2.00" fill="#0000ff"/>
<circle cx="265.47" cy="263.80" r="2.00" fill="#0000ff"/>
<circle cx="273.64" cy="257.20" r="2.00" fill="#0000ff"/>
<circle cx="281.82" cy="251.50" r="2.00" fill="#0000ff"/>
<circle cx="289.99" cy="246.60" r="2.00" fill="#0000ff"/>
<circle cx="298.16" cy="245.40" r="2.00" fill="#0000ff"/>
<circle cx="306.34" cy="213.90" r="2.00" fill="#0000ff"/>
<circle cx="314.51" cy="209.30" r="2.00" fill="#0000ff"/>
<polygon points="36.59,264.50 44.76,260.00 52.94,255.00 61.11,251.90 69.28,244.30 77.46,243.20 85.63,238.50 93.81,237.60 101.98,238.90 110.16,237.60 118.33,238.90 126.50,238.50 134.68,239.50 142.85,241.50 151.03,231.10 159.20,236.90 167.38,237.60 175.55,242.10 183.72,242.10 191.90,243.70 200.07,242.40 208.25,234.60 216.42,234.60 224.60,235.40 232.77,232.50 240.94,241.70 249.12,238.80 257.29,253.70 265.47,243.10 273.64,233.10 281.82,242.50 289.99,234.00 298.16,187.50 306.34,230.00 314.51,228.30 314.51,240.30 306.34,242.00 298.16,199.50 289.99,246.00 281.82,251.50 273.64,242.10 265.47,252.10 257.29,262.70 249.12,247.80 240.94,248.70 232.77,239.50 224.60,242.40 216.42,241.60 208.25,241.60 200.07,249.40 191.90,248.10 183.72,246.50 175.55,246.50 167.38,242.00 159.20,241.30 151.03,235.50 142.85,244.50 134.68,242.50 126.50,241.50 118.33,241.90 110.16,240.60 101.98,241.90 93.81,240.60 85.63,241.50 77.46,246.20 69.28,247.30 61.11,254.90 52.94,258.00 44.76,263.00 36.59,267.50" fill="url(#hg)" stroke="none"/>
<path d="M32.50 266.00H34.54M38.64 266.00H40.67M40.67 261.50H42.71M46.81 261.50H48.85M48.85 256.50H50.89M54.99 256.50H57.02M57.02 253.40H59.06M63.16 253.40H65.20M65.20 245.80H67.23M71.33 245.80H73.37M73.37 244.70H75.41M79.51 244.70H81.55M81.55 240.00H83.58M87.68 240.00H89.72M89.72 239.10H91.76M95.86 239.10H97.89M97.89 240.40H99.93M104.03 240.40H106.07M106.07 239.10H108.11M112.21 239.10H114.24M114.24 240.40H116.28M120.38 240.40H122.42M122.42 240.00H124.45M128.55 240.00H130.59M130.59 241.00H132.63M136.73 241.00H138.77M138.77 243.00H140.80M144.90 243.00H146.94M146.94 233.30H148.98M153.08 233.30H155.11M151.03 231.10V231.25M151.03 235.35V235.50M155.11 239.10H157.15M161.25 239.10H163.29M159.20 236.90V237.05M159.20 241.15V241.30M163.29 239.80H165.33M169.43 239.80H171.46M167.38 237.60V237.75M167.38 241.85V242.00M171.46 244.30H173.50M177.60 244.30H179.64M175.55 242.10V242.25M175.55 246.35V246.50M179.64 244.30H181.67M185.77 244.30H187.81M183.72 242.10V242.25M183.72 246.35V246.50M187.81 245.90H189.85M193.95 245.90H195.99M191.90 243.70V243.85M191.90 247.95V248.10M195.99 245.90H198.02M202.12 245.90H204.16M200.07 242.40V243.85M200.07 247.95V249.40M204.16 238.10H206.20M210.30 238.10H212.33M208.25 234.60V236.05M208.25 240.15V241.60M212.33 238.10H214.37M218.47 238.10H220.51M216.42 234.60V236.05M216.42 240.15V241.60M220.51 238.90H222.55M226.65 238.90H228.68M224.60 235.40V236.85M224.60 240.95V242.40M228.68 236.00H230.72M234.82 236.00H236.86M232.77 232.50V233.95M232.77 238.05V239.50M236.86 245.20H238.89M242.99 245.20H245.03M240.94 241.70V243.15M240.94 247.25V248.70M245.03 243.30H247.07M251.17 243.30H253.21M249.12 238.80V241.25M249.12 245.35V247.80M253.21 258.20H255.24M259.34 258.20H261.38M257.29 253.70V256.15M257.29 260.25V262.70M261.38 247.60H263.42M267.52 247.60H269.55M265.47 243.10V245.55M265.47 249.65V252.10M269.55 237.60H271.59M275.69 237.60H277.73M273.64 233.10V235.55M273.64 239.65V242.10M277.73 247.00H279.77M283.87 247.00H285.90M281.82 242.50V244.95M281.82 249.05V251.50M285.90 240.00H287.94M292.04 240.00H294.08M289.99 234.00V237.95M289.99 242.05V246.00M294.08 193.50H296.11M300.21 193.50H302.25M298.16 187.50V191.45M298.16 195.55V199.50M302.25 236.00H304.29M308.39 236.00H310.43M306.34 230.00V233.95M306.34 238.05V242.00M310.43 234.30H312.46M316.56 234.30H318.60M314.51 228.30V232.25M314.51 236.35V240.30" stroke="#44cc44" stroke-width="1.10" fill="none"/>
<circle cx="36.59" cy="266.00" r="1.50" fill="none" stroke="#44cc44" stroke-width="1.10"/>
<circle cx="44.76" cy="261.50" r="1.50" fill="none" stroke="#44cc44" stroke-width="1.10"/>
<circle cx="52.94" cy="256.50" r="1.50" fill="none" stroke="#44cc44" stroke-width="1.10"/>
<circle cx="61.11" cy="253.40" r="1.50" fill="none" stroke="#44cc44" stroke-width="1.10"/>
<circle cx="69.28" cy="245.80" r="1.50" fill="none" stroke="#44cc44" stroke-width="1.10"/>
<circle cx="77.46" cy="244.70" r="1.50" fill="none" stroke="#44cc44" stroke-width="1.10"/>
<circle cx="85.63" cy="240.00" r="1.50" fill="none" stroke="#44cc44" stroke-width="1.10"/>
<circle cx="93.81" cy="239.10" r="1.50" fill="none" stroke="#44cc44" stroke-width="1.10"/>
<circle cx="101.98" cy="240.40" r="1.50" fill="none" stroke="#44cc44" stroke-width="1.10"/>
<circle cx="110.16" cy="239.10" r="1.50" fill="none" stroke="#44cc44" stroke-width="1.10"/>
<circle cx="118.33" cy="240.40" r="1.50" fill="none" stroke="#44cc44" stroke-width="1.10"/>
<circle cx="126.50" cy="240.00" r="1.50" fill="none" stroke="#44cc44" stroke-width="1.10"/>
<circle cx="134.68" cy="241.00" r="1.50" fill="none" stroke="#44cc44" stroke-width="1.10"/>
<circle cx="142.85" cy="243.00" r="1.50" fill="none" stroke="#44cc44" stroke-width="1.10"/>
<circle cx="151.03" cy="233.30" r="1.50" fill="none" stroke="#44cc44" stroke-width="1.10"/>
<circle cx="159.20" cy="239.10" r="1.50" fill="none" stroke="#44cc44" stroke-width="1.10"/>
<circle cx="167.38" cy="239.80" r="1.50" fill="none" stroke="#44cc44" stroke-width="1.10"/>
<circle cx="175.55" cy="244.30" r="1.50" fill="none" stroke="#44cc44" stroke-width="1.10"/>
<circle cx="183.72" cy="244.30" r="1.50" fill="none" stroke="#44cc44" stroke-width="1.10"/>
<circle cx="191.90" cy="245.90" r="1.50" fill="none" stroke="#44cc44" stroke-width="1.10"/>
<circle cx="200.07" cy="245.90" r="1.50" fill="none" stroke="#44cc44" stroke-width="1.10"/>
<circle cx="208.25" cy="238.10" r="1.50" fill="none" stroke="#44cc44" stroke-width="1.10"/>
<circle cx="216.42" cy="238.10" r="1.50" fill="none" stroke="#44cc44" stroke-width="1.10"/>
<circle cx="224.60" cy="238.90" r="1.50" fill="none" stroke="#44cc44" stroke-width="1.10"/>
<circle cx="232.77" cy="236.00" r="1.50" fill="none" stroke="#44cc44" stroke-width="1.10"/>
<circle cx="240.94" cy="245.20" r="1.50" fill="none" stroke="#44cc44" stroke-width="1.10"/>
<circle cx="249.12" cy="243.30" r="1.50" fill="none" stroke="#44cc44" stroke-width="1.10"/>
<circle cx="257.29" cy="258.20" r="1.50" fill="none" stroke="#44cc44" stroke-width="1.10"/>
<circle cx="265.47" cy="247.60" r="1.50" fill="none" stroke="#44cc44" stroke-width="1.10"/>
<circle cx="273.64" cy="237.60" r="1.50" fill="none" stroke="#44cc44" stroke-width="1.10"/>
<circle cx="281.82" cy="247.00" r="1.50" fill="none" stroke="#44cc44" stroke-width="1.10"/>
<circle cx="289.99" cy="240.00" r="1.50" fill="none" stroke="#44cc44" stroke-width="1.10"/>
<circle cx="298.16" cy="193.50" r="1.50" fill="none" stroke="#44cc44" stroke-width="1.10"/>
<circle cx="306.34" cy="236.00" r="1.50" fill="none" stroke="#44cc44" stroke-width="1.10"/>
<circle cx="314.51" cy="234.30" r="1.50" fill="none" stroke="#44cc44" stroke-width="1.10"/>
<polygon points="36.59,234.60 44.76,232.50 52.94,233.50 61.11,235.30 69.28,230.40 77.46,234.50 85.63,235.70 93.81,232.30 101.98,234.50 110.16,233.90 118.33,237.60 126.50,237.00 134.68,237.30 142.85,236.90 151.03,232.50 159.20,241.90 167.38,237.60 175.55,243.00 183.72,234.40 191.90,239.80 200.07,247.80 208.25,233.30 216.42,228.10 224.60,243.90 232.77,231.00 240.94,236.10 249.12,241.50 257.29,247.50 265.47,253.00 273.64,247.80 281.82,250.10 289.99,223.90 298.16,241.80 306.34,222.70 314.51,234.00 314.51,246.00 306.34,234.70 298.16,253.80 289.99,235.90 281.82,259.10 273.64,256.80 265.47,262.00 257.29,256.50 249.12,250.50 240.94,243.10 232.77,238.00 224.60,250.90 216.42,235.10 208.25,240.30 200.07,254.80 191.90,244.20 183.72,238.80 175.55,247.40 167.38,242.00 159.20,246.30 151.03,236.90 142.85,239.90 134.68,240.30 126.50,240.00 118.33,240.60 110.16,236.90 101.98,237.50 93.81,235.30 85.63,238.70 77.46,237.50 69.28,233.40 61.11,238.30 52.94,236.50 44.76,235.50 36.59,237.60" fill="url(#hm)" stroke="none"/>
<path d="M32.50 236.10H34.34M38.84 236.10H40.67M40.67 234.00H42.51M47.01 234.00H48.85M48.85 235.00H50.69M55.19 235.00H57.02M57.02 236.80H58.86M63.36 236.80H65.20M65.20 231.90H67.03M71.53 231.90H73.37M73.37 236.00H75.21M79.71 236.00H81.55M81.55 237.20H83.38M87.88 237.20H89.72M89.72 233.80H91.56M96.06 233.80H97.89M97.89 236.00H99.73M104.23 236.00H106.07M106.07 235.40H107.91M112.41 235.40H114.24M114.24 239.10H116.08M120.58 239.10H122.42M122.42 238.50H124.25M128.75 238.50H130.59M130.59 238.80H132.43M136.93 238.80H138.77M138.77 238.40H140.60M145.10 238.40H146.94M146.94 234.70H148.78M153.28 234.70H155.11M155.11 244.10H156.95M161.45 244.10H163.29M163.29 239.80H165.13M169.63 239.80H171.46M171.46 245.20H173.30M177.80 245.20H179.64M179.64 236.60H181.47M185.97 236.60H187.81M187.81 242.00H189.65M194.15 242.00H195.99M195.99 251.30H197.82M202.32 251.30H204.16M200.07 247.80V249.05M200.07 253.55V254.80M204.16 236.80H206.00M210.50 236.80H212.33M208.25 233.30V234.55M208.25 239.05V240.30M212.33 231.60H214.17M218.67 231.60H220.51M216.42 228.10V229.35M216.42 233.85V235.10M220.51 247.40H222.35M226.85 247.40H228.68M224.60 243.90V245.15M224.60 249.65V250.90M228.68 234.50H230.52M235.02 234.50H236.86M232.77 231.00V232.25M232.77 236.75V238.00M236.86 239.60H238.69M243.19 239.60H245.03M240.94 236.10V237.35M240.94 241.85V243.10M245.03 246.00H246.87M251.37 246.00H253.21M249.12 241.50V243.75M249.12 248.25V250.50M253.21 252.00H255.04M259.54 252.00H261.38M257.29 247.50V249.75M257.29 254.25V256.50M261.38 257.50H263.22M267.72 257.50H269.55M265.47 253.00V255.25M265.47 259.75V262.00M269.55 252.30H271.39M275.89 252.30H277.73M273.64 247.80V250.05M273.64 254.55V256.80M277.73 254.60H279.57M284.07 254.60H285.90M281.82 250.10V252.35M281.82 256.85V259.10M285.90 229.90H287.74M292.24 229.90H294.08M289.99 223.90V227.65M289.99 232.15V235.90M294.08 247.80H295.91M300.41 247.80H302.25M298.16 241.80V245.55M298.16 250.05V253.80M302.25 228.70H304.09M308.59 228.70H310.43M306.34 222.70V226.45M306.34 230.95V234.70M310.43 240.00H312.26M316.76 240.00H318.60M314.51 234.00V237.75M314.51 242.25V246.00" stroke="#ff00ff" stroke-width="1.25" fill="none"/>
<circle cx="36.59" cy="236.10" r="1.60" fill="none" stroke="#ff00ff" stroke-width="1.30"/>
<circle cx="44.76" cy="234.00" r="1.60" fill="none" stroke="#ff00ff" stroke-width="1.30"/>
<circle cx="52.94" cy="235.00" r="1.60" fill="none" stroke="#ff00ff" stroke-width="1.30"/>
<circle cx="61.11" cy="236.80" r="1.60" fill="none" stroke="#ff00ff" stroke-width="1.30"/>
<circle cx="69.28" cy="231.90" r="1.60" fill="none" stroke="#ff00ff" stroke-width="1.30"/>
<circle cx="77.46" cy="236.00" r="1.60" fill="none" stroke="#ff00ff" stroke-width="1.30"/>
<circle cx="85.63" cy="237.20" r="1.60" fill="none" stroke="#ff00ff" stroke-width="1.30"/>
<circle cx="93.81" cy="233.80" r="1.60" fill="none" stroke="#ff00ff" stroke-width="1.30"/>
<circle cx="101.98" cy="236.00" r="1.60" fill="none" stroke="#ff00ff" stroke-width="1.30"/>
<circle cx="110.16" cy="235.40" r="1.60" fill="none" stroke="#ff00ff" stroke-width="1.30"/>
<circle cx="118.33" cy="239.10" r="1.60" fill="none" stroke="#ff00ff" stroke-width="1.30"/>
<circle cx="126.50" cy="238.50" r="1.60" fill="none" stroke="#ff00ff" stroke-width="1.30"/>
<circle cx="134.68" cy="238.80" r="1.60" fill="none" stroke="#ff00ff" stroke-width="1.30"/>
<circle cx="142.85" cy="238.40" r="1.60" fill="none" stroke="#ff00ff" stroke-width="1.30"/>
<circle cx="151.03" cy="234.70" r="1.60" fill="none" stroke="#ff00ff" stroke-width="1.30"/>
<circle cx="159.20" cy="244.10" r="1.60" fill="none" stroke="#ff00ff" stroke-width="1.30"/>
<circle cx="167.38" cy="239.80" r="1.60" fill="none" stroke="#ff00ff" stroke-width="1.30"/>
<circle cx="175.55" cy="245.20" r="1.60" fill="none" stroke="#ff00ff" stroke-width="1.30"/>
<circle cx="183.72" cy="236.60" r="1.60" fill="none" stroke="#ff00ff" stroke-width="1.30"/>
<circle cx="191.90" cy="242.00" r="1.60" fill="none" stroke="#ff00ff" stroke-width="1.30"/>
<circle cx="200.07" cy="251.30" r="1.60" fill="none" stroke="#ff00ff" stroke-width="1.30"/>
<circle cx="208.25" cy="236.80" r="1.60" fill="none" stroke="#ff00ff" stroke-width="1.30"/>
<circle cx="216.42" cy="231.60" r="1.60" fill="none" stroke="#ff00ff" stroke-width="1.30"/>
<circle cx="224.60" cy="247.40" r="1.60" fill="none" stroke="#ff00ff" stroke-width="1.30"/>
<circle cx="232.77" cy="234.50" r="1.60" fill="none" stroke="#ff00ff" stroke-width="1.30"/>
<circle cx="240.94" cy="239.60" r="1.60" fill="none" stroke="#ff00ff" stroke-width="1.30"/>
<circle cx="249.12" cy="246.00" r="1.60" fill="none" stroke="#ff00ff" stroke-width="1.30"/>
<circle cx="257.29" cy="252.00" r="1.60" fill="none" stroke="#ff00ff" stroke-width="1.30"/>
<circle cx="265.47" cy="257.50" r="1.60" fill="none" stroke="#ff00ff" stroke-width="1.30"/>
<circle cx="273.64" cy="252.30" r="1.60" fill="none" stroke="#ff00ff" stroke-width="1.30"/>
<circle cx="281.82" cy="254.60" r="1.60" fill="none" stroke="#ff00ff" stroke-width="1.30"/>
<circle cx="289.99" cy="229.90" r="1.60" fill="none" stroke="#ff00ff" stroke-width="1.30"/>
<circle cx="298.16" cy="247.80" r="1.60" fill="none" stroke="#ff00ff" stroke-width="1.30"/>
<circle cx="306.34" cy="228.70" r="1.60" fill="none" stroke="#ff00ff" stroke-width="1.30"/>
<circle cx="314.51" cy="240.00" r="1.60" fill="none" stroke="#ff00ff" stroke-width="1.30"/>
<path d="M32.50 241.85H318.60" stroke="#ff0000" stroke-width="2.2"/>
</g>
<text x="31.2" y="284.35" font-family="Liberation Sans, sans-serif" font-size="11.3" text-anchor="end" fill="#000" stroke="#000" stroke-width="0.3">0.8</text>
<text x="31.2" y="265.30" font-family="Liberation Sans, sans-serif" font-size="11.3" text-anchor="end" fill="#000" stroke="#000" stroke-width="0.3">0.9</text>
<text x="31.2" y="246.25" font-family="Liberation Sans, sans-serif" font-size="11.3" text-anchor="end" fill="#000" stroke="#000" stroke-width="0.3">1</text>
<text x="31.2" y="227.20" font-family="Liberation Sans, sans-serif" font-size="11.3" text-anchor="end" fill="#000" stroke="#000" stroke-width="0.3">1.1</text>
<text x="31.2" y="208.15" font-family="Liberation Sans, sans-serif" font-size="11.3" text-anchor="end" fill="#000" stroke="#000" stroke-width="0.3">1.2</text>
<text x="32.50" y="307.7" font-family="Liberation Sans, sans-serif" font-size="11.4" text-anchor="middle" fill="#000" stroke="#000" stroke-width="0.3">−1</text>
<text x="73.37" y="307.7" font-family="Liberation Sans, sans-serif" font-size="11.4" text-anchor="middle" fill="#000" stroke="#000" stroke-width="0.3">−0.5</text>
<text x="114.24" y="307.7" font-family="Liberation Sans, sans-serif" font-size="11.4" text-anchor="middle" fill="#000" stroke="#000" stroke-width="0.3">0</text>
<text x="155.11" y="307.7" font-family="Liberation Sans, sans-serif" font-size="11.4" text-anchor="middle" fill="#000" stroke="#000" stroke-width="0.3">0.5</text>
<text x="195.99" y="307.7" font-family="Liberation Sans, sans-serif" font-size="11.4" text-anchor="middle" fill="#000" stroke="#000" stroke-width="0.3">1</text>
<text x="236.86" y="307.7" font-family="Liberation Sans, sans-serif" font-size="11.4" text-anchor="middle" fill="#000" stroke="#000" stroke-width="0.3">1.5</text>
<text x="277.73" y="307.7" font-family="Liberation Sans, sans-serif" font-size="11.4" text-anchor="middle" fill="#000" stroke="#000" stroke-width="0.3">2</text>
<text x="318.60" y="307.7" font-family="Liberation Sans, sans-serif" font-size="11.4" text-anchor="middle" fill="#000" stroke="#000" stroke-width="0.3">2.5</text>
<text transform="translate(11.1,302) rotate(-90)" font-family="Liberation Sans, sans-serif" font-size="11.4" fill="#000" stroke="#000" stroke-width="0.15">Ratio to QGSJET-II-03</text>
<text x="318.6" y="319.1" font-family="Liberation Sans, sans-serif" font-size="12" text-anchor="end" fill="#000" stroke="#000" stroke-width="0.08">log10(E<tspan dy="5.2" font-size="7.9">true</tspan><tspan dy="-5.2">/TeV)</tspan></text>
</g>
</g>
</svg>
</body></html>
